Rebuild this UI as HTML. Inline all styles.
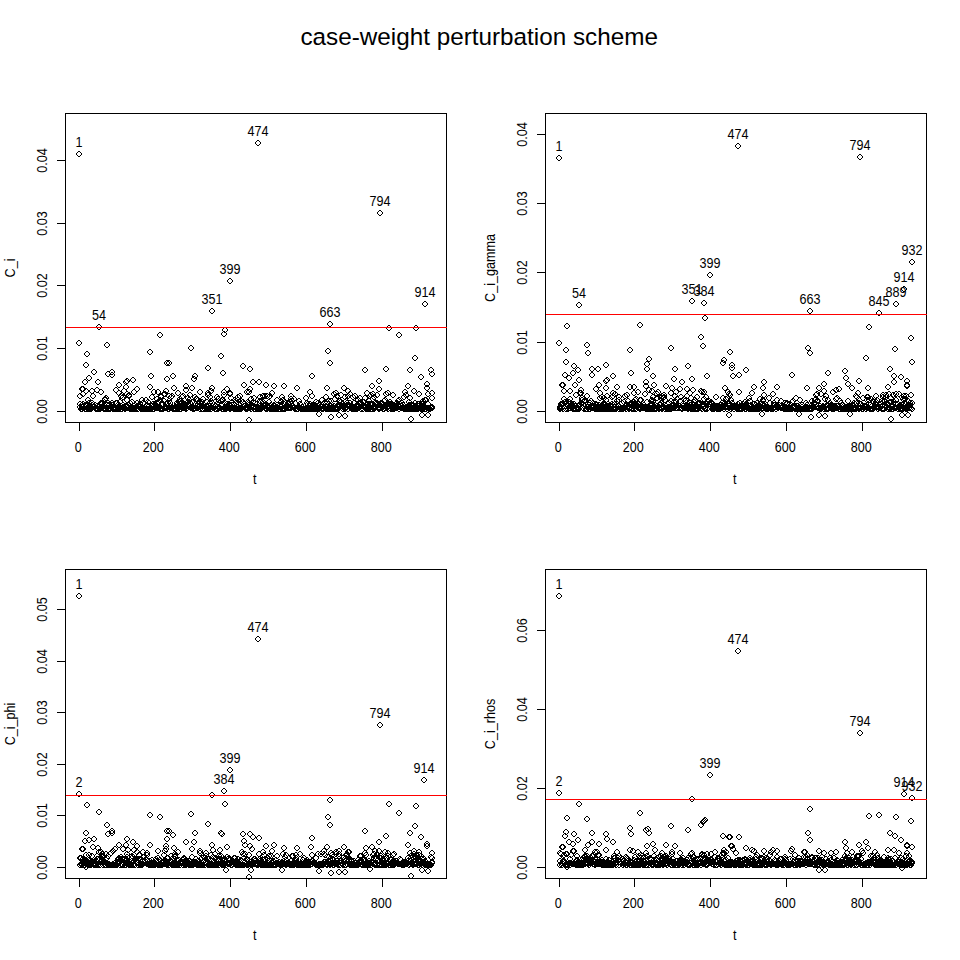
<!DOCTYPE html>
<html><head><meta charset="utf-8"><title>case-weight perturbation scheme</title>
<style>html,body{margin:0;padding:0;background:#fff;}body{width:960px;height:960px;overflow:hidden;font-family:"Liberation Sans",sans-serif;}svg{display:block;}</style>
</head><body>
<svg width="960" height="960" viewBox="0 0 960 960">
<defs><symbol id="m" overflow="visible"><path d="M-1,-3h2v1h-2zM-2,-2h1v1h-1zM1,-2h1v1h-1zM-3,-1h1v2h-1zM2,-1h1v2h-1zM-2,1h1v1h-1zM1,1h1v1h-1zM-1,2h2v1h-2z"/></symbol></defs>
<rect x="0" y="0" width="960" height="960" fill="#fff"/>
<text x="479.2" y="44.7" text-anchor="middle" font-family='"Liberation Sans", sans-serif' font-size="24.27" fill="#000">case-weight perturbation scheme</text>
<g id="p1">
<g fill="#000" shape-rendering="crispEdges">
<use href="#m" x="80" y="396"/><use href="#m" x="80" y="404"/><use href="#m" x="80" y="407"/><use href="#m" x="81" y="409"/><use href="#m" x="82" y="409"/><use href="#m" x="82" y="407"/><use href="#m" x="82" y="405"/><use href="#m" x="83" y="404"/><use href="#m" x="83" y="394"/><use href="#m" x="83" y="407"/><use href="#m" x="84" y="406"/><use href="#m" x="84" y="408"/><use href="#m" x="85" y="407"/><use href="#m" x="85" y="409"/><use href="#m" x="86" y="391"/><use href="#m" x="86" y="405"/><use href="#m" x="86" y="409"/><use href="#m" x="87" y="405"/><use href="#m" x="87" y="408"/><use href="#m" x="88" y="407"/><use href="#m" x="88" y="400"/><use href="#m" x="88" y="409"/><use href="#m" x="89" y="403"/><use href="#m" x="89" y="409"/><use href="#m" x="90" y="409"/><use href="#m" x="90" y="406"/><use href="#m" x="91" y="409"/><use href="#m" x="91" y="408"/><use href="#m" x="92" y="403"/><use href="#m" x="92" y="405"/><use href="#m" x="93" y="407"/><use href="#m" x="93" y="396"/><use href="#m" x="94" y="406"/><use href="#m" x="95" y="405"/><use href="#m" x="96" y="409"/><use href="#m" x="96" y="408"/><use href="#m" x="97" y="406"/><use href="#m" x="97" y="409"/><use href="#m" x="98" y="409"/><use href="#m" x="99" y="406"/><use href="#m" x="100" y="409"/><use href="#m" x="100" y="408"/><use href="#m" x="101" y="403"/><use href="#m" x="101" y="404"/><use href="#m" x="102" y="404"/><use href="#m" x="103" y="406"/><use href="#m" x="104" y="409"/><use href="#m" x="105" y="409"/><use href="#m" x="105" y="400"/><use href="#m" x="105" y="399"/><use href="#m" x="106" y="409"/><use href="#m" x="106" y="398"/><use href="#m" x="107" y="405"/><use href="#m" x="107" y="408"/><use href="#m" x="108" y="403"/><use href="#m" x="108" y="409"/><use href="#m" x="109" y="405"/><use href="#m" x="109" y="408"/><use href="#m" x="110" y="409"/><use href="#m" x="110" y="408"/><use href="#m" x="111" y="407"/><use href="#m" x="111" y="406"/><use href="#m" x="112" y="403"/><use href="#m" x="112" y="405"/><use href="#m" x="113" y="409"/><use href="#m" x="113" y="408"/><use href="#m" x="114" y="408"/><use href="#m" x="114" y="409"/><use href="#m" x="115" y="408"/><use href="#m" x="115" y="409"/><use href="#m" x="116" y="403"/><use href="#m" x="116" y="409"/><use href="#m" x="117" y="403"/><use href="#m" x="118" y="409"/><use href="#m" x="118" y="405"/><use href="#m" x="119" y="408"/><use href="#m" x="119" y="409"/><use href="#m" x="120" y="407"/><use href="#m" x="120" y="402"/><use href="#m" x="121" y="409"/><use href="#m" x="121" y="406"/><use href="#m" x="121" y="396"/><use href="#m" x="122" y="398"/><use href="#m" x="122" y="409"/><use href="#m" x="123" y="397"/><use href="#m" x="123" y="405"/><use href="#m" x="124" y="407"/><use href="#m" x="124" y="391"/><use href="#m" x="124" y="408"/><use href="#m" x="125" y="409"/><use href="#m" x="125" y="408"/><use href="#m" x="126" y="406"/><use href="#m" x="126" y="407"/><use href="#m" x="127" y="400"/><use href="#m" x="127" y="394"/><use href="#m" x="128" y="408"/><use href="#m" x="128" y="405"/><use href="#m" x="129" y="395"/><use href="#m" x="129" y="396"/><use href="#m" x="130" y="403"/><use href="#m" x="130" y="408"/><use href="#m" x="130" y="409"/><use href="#m" x="131" y="409"/><use href="#m" x="132" y="408"/><use href="#m" x="132" y="409"/><use href="#m" x="132" y="402"/><use href="#m" x="133" y="408"/><use href="#m" x="133" y="409"/><use href="#m" x="134" y="409"/><use href="#m" x="135" y="405"/><use href="#m" x="135" y="408"/><use href="#m" x="136" y="409"/><use href="#m" x="136" y="407"/><use href="#m" x="137" y="408"/><use href="#m" x="137" y="403"/><use href="#m" x="138" y="409"/><use href="#m" x="139" y="407"/><use href="#m" x="139" y="405"/><use href="#m" x="139" y="406"/><use href="#m" x="140" y="404"/><use href="#m" x="140" y="407"/><use href="#m" x="141" y="409"/><use href="#m" x="141" y="408"/><use href="#m" x="142" y="400"/><use href="#m" x="142" y="407"/><use href="#m" x="143" y="409"/><use href="#m" x="143" y="403"/><use href="#m" x="144" y="409"/><use href="#m" x="144" y="408"/><use href="#m" x="145" y="407"/><use href="#m" x="145" y="409"/><use href="#m" x="146" y="400"/><use href="#m" x="146" y="409"/><use href="#m" x="147" y="405"/><use href="#m" x="147" y="409"/><use href="#m" x="147" y="406"/><use href="#m" x="148" y="409"/><use href="#m" x="148" y="402"/><use href="#m" x="149" y="409"/><use href="#m" x="149" y="406"/><use href="#m" x="150" y="408"/><use href="#m" x="150" y="409"/><use href="#m" x="151" y="408"/><use href="#m" x="151" y="409"/><use href="#m" x="152" y="406"/><use href="#m" x="152" y="397"/><use href="#m" x="153" y="409"/><use href="#m" x="153" y="404"/><use href="#m" x="154" y="406"/><use href="#m" x="154" y="409"/><use href="#m" x="155" y="407"/><use href="#m" x="155" y="408"/><use href="#m" x="155" y="404"/><use href="#m" x="156" y="408"/><use href="#m" x="156" y="407"/><use href="#m" x="157" y="407"/><use href="#m" x="157" y="399"/><use href="#m" x="157" y="408"/><use href="#m" x="158" y="408"/><use href="#m" x="158" y="407"/><use href="#m" x="158" y="402"/><use href="#m" x="159" y="407"/><use href="#m" x="160" y="407"/><use href="#m" x="160" y="400"/><use href="#m" x="160" y="409"/><use href="#m" x="161" y="396"/><use href="#m" x="161" y="397"/><use href="#m" x="161" y="409"/><use href="#m" x="162" y="409"/><use href="#m" x="162" y="404"/><use href="#m" x="163" y="404"/><use href="#m" x="163" y="409"/><use href="#m" x="164" y="401"/><use href="#m" x="164" y="394"/><use href="#m" x="164" y="408"/><use href="#m" x="165" y="394"/><use href="#m" x="166" y="404"/><use href="#m" x="166" y="408"/><use href="#m" x="167" y="404"/><use href="#m" x="168" y="403"/><use href="#m" x="168" y="409"/><use href="#m" x="169" y="401"/><use href="#m" x="169" y="409"/><use href="#m" x="169" y="396"/><use href="#m" x="170" y="403"/><use href="#m" x="170" y="408"/><use href="#m" x="171" y="408"/><use href="#m" x="171" y="397"/><use href="#m" x="172" y="407"/><use href="#m" x="172" y="408"/><use href="#m" x="172" y="396"/><use href="#m" x="173" y="409"/><use href="#m" x="174" y="409"/><use href="#m" x="175" y="409"/><use href="#m" x="176" y="409"/><use href="#m" x="177" y="405"/><use href="#m" x="177" y="407"/><use href="#m" x="177" y="403"/><use href="#m" x="178" y="408"/><use href="#m" x="178" y="409"/><use href="#m" x="179" y="408"/><use href="#m" x="179" y="402"/><use href="#m" x="179" y="406"/><use href="#m" x="180" y="401"/><use href="#m" x="180" y="399"/><use href="#m" x="180" y="409"/><use href="#m" x="181" y="409"/><use href="#m" x="181" y="401"/><use href="#m" x="182" y="397"/><use href="#m" x="182" y="403"/><use href="#m" x="182" y="405"/><use href="#m" x="183" y="396"/><use href="#m" x="183" y="406"/><use href="#m" x="183" y="408"/><use href="#m" x="184" y="405"/><use href="#m" x="184" y="408"/><use href="#m" x="185" y="407"/><use href="#m" x="185" y="404"/><use href="#m" x="185" y="408"/><use href="#m" x="186" y="409"/><use href="#m" x="186" y="407"/><use href="#m" x="186" y="390"/><use href="#m" x="187" y="406"/><use href="#m" x="187" y="408"/><use href="#m" x="188" y="402"/><use href="#m" x="188" y="404"/><use href="#m" x="188" y="398"/><use href="#m" x="189" y="405"/><use href="#m" x="189" y="400"/><use href="#m" x="190" y="395"/><use href="#m" x="190" y="403"/><use href="#m" x="191" y="404"/><use href="#m" x="191" y="408"/><use href="#m" x="192" y="402"/><use href="#m" x="193" y="409"/><use href="#m" x="193" y="407"/><use href="#m" x="194" y="409"/><use href="#m" x="194" y="408"/><use href="#m" x="195" y="408"/><use href="#m" x="195" y="397"/><use href="#m" x="196" y="399"/><use href="#m" x="197" y="406"/><use href="#m" x="197" y="399"/><use href="#m" x="197" y="408"/><use href="#m" x="198" y="404"/><use href="#m" x="198" y="407"/><use href="#m" x="199" y="407"/><use href="#m" x="199" y="406"/><use href="#m" x="200" y="409"/><use href="#m" x="200" y="403"/><use href="#m" x="200" y="405"/><use href="#m" x="201" y="404"/><use href="#m" x="202" y="409"/><use href="#m" x="202" y="402"/><use href="#m" x="203" y="409"/><use href="#m" x="203" y="399"/><use href="#m" x="204" y="408"/><use href="#m" x="204" y="405"/><use href="#m" x="205" y="409"/><use href="#m" x="205" y="407"/><use href="#m" x="206" y="406"/><use href="#m" x="206" y="408"/><use href="#m" x="207" y="402"/><use href="#m" x="207" y="409"/><use href="#m" x="208" y="395"/><use href="#m" x="208" y="393"/><use href="#m" x="208" y="409"/><use href="#m" x="209" y="408"/><use href="#m" x="209" y="409"/><use href="#m" x="210" y="403"/><use href="#m" x="210" y="397"/><use href="#m" x="210" y="408"/><use href="#m" x="211" y="409"/><use href="#m" x="211" y="401"/><use href="#m" x="212" y="403"/><use href="#m" x="213" y="408"/><use href="#m" x="214" y="407"/><use href="#m" x="215" y="406"/><use href="#m" x="215" y="409"/><use href="#m" x="216" y="406"/><use href="#m" x="216" y="401"/><use href="#m" x="216" y="409"/><use href="#m" x="217" y="404"/><use href="#m" x="217" y="397"/><use href="#m" x="218" y="409"/><use href="#m" x="218" y="399"/><use href="#m" x="219" y="407"/><use href="#m" x="219" y="408"/><use href="#m" x="220" y="408"/><use href="#m" x="221" y="401"/><use href="#m" x="221" y="405"/><use href="#m" x="222" y="409"/><use href="#m" x="222" y="404"/><use href="#m" x="222" y="400"/><use href="#m" x="223" y="400"/><use href="#m" x="223" y="409"/><use href="#m" x="224" y="392"/><use href="#m" x="224" y="395"/><use href="#m" x="225" y="409"/><use href="#m" x="225" y="407"/><use href="#m" x="225" y="408"/><use href="#m" x="226" y="408"/><use href="#m" x="226" y="409"/><use href="#m" x="227" y="404"/><use href="#m" x="227" y="406"/><use href="#m" x="228" y="407"/><use href="#m" x="228" y="406"/><use href="#m" x="229" y="407"/><use href="#m" x="229" y="408"/><use href="#m" x="229" y="404"/><use href="#m" x="230" y="394"/><use href="#m" x="230" y="409"/><use href="#m" x="230" y="393"/><use href="#m" x="231" y="408"/><use href="#m" x="231" y="398"/><use href="#m" x="232" y="405"/><use href="#m" x="232" y="408"/><use href="#m" x="232" y="402"/><use href="#m" x="233" y="408"/><use href="#m" x="234" y="409"/><use href="#m" x="235" y="400"/><use href="#m" x="235" y="408"/><use href="#m" x="236" y="401"/><use href="#m" x="236" y="403"/><use href="#m" x="236" y="409"/><use href="#m" x="237" y="409"/><use href="#m" x="237" y="407"/><use href="#m" x="238" y="400"/><use href="#m" x="238" y="397"/><use href="#m" x="238" y="409"/><use href="#m" x="239" y="409"/><use href="#m" x="239" y="408"/><use href="#m" x="240" y="396"/><use href="#m" x="240" y="408"/><use href="#m" x="240" y="409"/><use href="#m" x="241" y="404"/><use href="#m" x="241" y="401"/><use href="#m" x="241" y="409"/><use href="#m" x="243" y="407"/><use href="#m" x="243" y="402"/><use href="#m" x="244" y="406"/><use href="#m" x="244" y="404"/><use href="#m" x="245" y="406"/><use href="#m" x="246" y="407"/><use href="#m" x="246" y="409"/><use href="#m" x="246" y="408"/><use href="#m" x="247" y="409"/><use href="#m" x="247" y="407"/><use href="#m" x="248" y="402"/><use href="#m" x="249" y="392"/><use href="#m" x="249" y="403"/><use href="#m" x="249" y="405"/><use href="#m" x="250" y="408"/><use href="#m" x="250" y="404"/><use href="#m" x="251" y="399"/><use href="#m" x="251" y="409"/><use href="#m" x="251" y="407"/><use href="#m" x="252" y="406"/><use href="#m" x="252" y="405"/><use href="#m" x="253" y="402"/><use href="#m" x="253" y="408"/><use href="#m" x="254" y="398"/><use href="#m" x="254" y="409"/><use href="#m" x="255" y="403"/><use href="#m" x="255" y="409"/><use href="#m" x="256" y="407"/><use href="#m" x="257" y="409"/><use href="#m" x="258" y="408"/><use href="#m" x="258" y="407"/><use href="#m" x="258" y="409"/><use href="#m" x="259" y="409"/><use href="#m" x="259" y="408"/><use href="#m" x="260" y="397"/><use href="#m" x="260" y="401"/><use href="#m" x="261" y="407"/><use href="#m" x="261" y="409"/><use href="#m" x="261" y="402"/><use href="#m" x="262" y="408"/><use href="#m" x="262" y="407"/><use href="#m" x="263" y="402"/><use href="#m" x="263" y="396"/><use href="#m" x="264" y="406"/><use href="#m" x="264" y="405"/><use href="#m" x="265" y="408"/><use href="#m" x="265" y="405"/><use href="#m" x="265" y="396"/><use href="#m" x="266" y="409"/><use href="#m" x="266" y="408"/><use href="#m" x="266" y="404"/><use href="#m" x="267" y="396"/><use href="#m" x="267" y="409"/><use href="#m" x="268" y="406"/><use href="#m" x="268" y="407"/><use href="#m" x="268" y="408"/><use href="#m" x="269" y="402"/><use href="#m" x="269" y="397"/><use href="#m" x="270" y="396"/><use href="#m" x="270" y="409"/><use href="#m" x="271" y="405"/><use href="#m" x="271" y="409"/><use href="#m" x="272" y="409"/><use href="#m" x="273" y="408"/><use href="#m" x="273" y="409"/><use href="#m" x="274" y="405"/><use href="#m" x="274" y="406"/><use href="#m" x="274" y="408"/><use href="#m" x="275" y="409"/><use href="#m" x="275" y="408"/><use href="#m" x="276" y="409"/><use href="#m" x="276" y="408"/><use href="#m" x="277" y="408"/><use href="#m" x="277" y="400"/><use href="#m" x="277" y="409"/><use href="#m" x="278" y="408"/><use href="#m" x="279" y="409"/><use href="#m" x="280" y="409"/><use href="#m" x="280" y="405"/><use href="#m" x="281" y="402"/><use href="#m" x="281" y="407"/><use href="#m" x="282" y="405"/><use href="#m" x="282" y="397"/><use href="#m" x="282" y="409"/><use href="#m" x="283" y="400"/><use href="#m" x="283" y="408"/><use href="#m" x="284" y="408"/><use href="#m" x="284" y="409"/><use href="#m" x="285" y="409"/><use href="#m" x="285" y="407"/><use href="#m" x="285" y="402"/><use href="#m" x="286" y="406"/><use href="#m" x="287" y="407"/><use href="#m" x="287" y="406"/><use href="#m" x="288" y="404"/><use href="#m" x="288" y="403"/><use href="#m" x="288" y="408"/><use href="#m" x="289" y="407"/><use href="#m" x="290" y="408"/><use href="#m" x="290" y="407"/><use href="#m" x="290" y="402"/><use href="#m" x="291" y="396"/><use href="#m" x="291" y="399"/><use href="#m" x="291" y="408"/><use href="#m" x="292" y="401"/><use href="#m" x="293" y="406"/><use href="#m" x="294" y="407"/><use href="#m" x="294" y="408"/><use href="#m" x="294" y="399"/><use href="#m" x="295" y="409"/><use href="#m" x="296" y="408"/><use href="#m" x="297" y="409"/><use href="#m" x="298" y="409"/><use href="#m" x="299" y="401"/><use href="#m" x="299" y="407"/><use href="#m" x="300" y="408"/><use href="#m" x="300" y="404"/><use href="#m" x="301" y="409"/><use href="#m" x="301" y="405"/><use href="#m" x="302" y="407"/><use href="#m" x="303" y="409"/><use href="#m" x="304" y="409"/><use href="#m" x="305" y="409"/><use href="#m" x="306" y="408"/><use href="#m" x="306" y="398"/><use href="#m" x="307" y="403"/><use href="#m" x="307" y="409"/><use href="#m" x="308" y="404"/><use href="#m" x="308" y="409"/><use href="#m" x="308" y="408"/><use href="#m" x="309" y="409"/><use href="#m" x="309" y="406"/><use href="#m" x="310" y="392"/><use href="#m" x="310" y="404"/><use href="#m" x="310" y="409"/><use href="#m" x="311" y="408"/><use href="#m" x="311" y="409"/><use href="#m" x="312" y="409"/><use href="#m" x="312" y="408"/><use href="#m" x="312" y="396"/><use href="#m" x="313" y="406"/><use href="#m" x="313" y="409"/><use href="#m" x="313" y="405"/><use href="#m" x="314" y="408"/><use href="#m" x="314" y="407"/><use href="#m" x="315" y="409"/><use href="#m" x="315" y="405"/><use href="#m" x="315" y="408"/><use href="#m" x="316" y="409"/><use href="#m" x="316" y="402"/><use href="#m" x="317" y="409"/><use href="#m" x="317" y="408"/><use href="#m" x="318" y="409"/><use href="#m" x="318" y="403"/><use href="#m" x="318" y="406"/><use href="#m" x="319" y="409"/><use href="#m" x="320" y="405"/><use href="#m" x="320" y="408"/><use href="#m" x="321" y="407"/><use href="#m" x="321" y="406"/><use href="#m" x="322" y="409"/><use href="#m" x="322" y="400"/><use href="#m" x="323" y="408"/><use href="#m" x="323" y="409"/><use href="#m" x="324" y="407"/><use href="#m" x="325" y="402"/><use href="#m" x="325" y="408"/><use href="#m" x="326" y="404"/><use href="#m" x="326" y="409"/><use href="#m" x="326" y="397"/><use href="#m" x="327" y="407"/><use href="#m" x="327" y="402"/><use href="#m" x="328" y="408"/><use href="#m" x="328" y="409"/><use href="#m" x="329" y="401"/><use href="#m" x="329" y="408"/><use href="#m" x="329" y="407"/><use href="#m" x="330" y="406"/><use href="#m" x="330" y="409"/><use href="#m" x="330" y="405"/><use href="#m" x="331" y="406"/><use href="#m" x="331" y="401"/><use href="#m" x="332" y="409"/><use href="#m" x="332" y="408"/><use href="#m" x="333" y="408"/><use href="#m" x="333" y="407"/><use href="#m" x="333" y="409"/><use href="#m" x="334" y="406"/><use href="#m" x="334" y="394"/><use href="#m" x="335" y="399"/><use href="#m" x="335" y="408"/><use href="#m" x="335" y="409"/><use href="#m" x="336" y="408"/><use href="#m" x="336" y="409"/><use href="#m" x="337" y="409"/><use href="#m" x="337" y="396"/><use href="#m" x="338" y="406"/><use href="#m" x="338" y="409"/><use href="#m" x="338" y="405"/><use href="#m" x="339" y="401"/><use href="#m" x="340" y="401"/><use href="#m" x="340" y="406"/><use href="#m" x="340" y="405"/><use href="#m" x="341" y="402"/><use href="#m" x="341" y="395"/><use href="#m" x="342" y="406"/><use href="#m" x="342" y="404"/><use href="#m" x="343" y="409"/><use href="#m" x="343" y="407"/><use href="#m" x="344" y="406"/><use href="#m" x="345" y="409"/><use href="#m" x="345" y="397"/><use href="#m" x="346" y="407"/><use href="#m" x="346" y="408"/><use href="#m" x="346" y="401"/><use href="#m" x="347" y="405"/><use href="#m" x="347" y="403"/><use href="#m" x="348" y="396"/><use href="#m" x="348" y="409"/><use href="#m" x="349" y="406"/><use href="#m" x="349" y="405"/><use href="#m" x="350" y="403"/><use href="#m" x="350" y="394"/><use href="#m" x="351" y="407"/><use href="#m" x="352" y="409"/><use href="#m" x="352" y="407"/><use href="#m" x="352" y="408"/><use href="#m" x="353" y="408"/><use href="#m" x="353" y="397"/><use href="#m" x="354" y="407"/><use href="#m" x="354" y="409"/><use href="#m" x="354" y="403"/><use href="#m" x="355" y="396"/><use href="#m" x="355" y="407"/><use href="#m" x="355" y="409"/><use href="#m" x="356" y="409"/><use href="#m" x="357" y="409"/><use href="#m" x="357" y="405"/><use href="#m" x="358" y="405"/><use href="#m" x="358" y="400"/><use href="#m" x="358" y="406"/><use href="#m" x="359" y="408"/><use href="#m" x="359" y="403"/><use href="#m" x="360" y="398"/><use href="#m" x="360" y="407"/><use href="#m" x="360" y="403"/><use href="#m" x="361" y="405"/><use href="#m" x="361" y="409"/><use href="#m" x="362" y="404"/><use href="#m" x="362" y="408"/><use href="#m" x="363" y="409"/><use href="#m" x="363" y="402"/><use href="#m" x="363" y="406"/><use href="#m" x="364" y="407"/><use href="#m" x="364" y="402"/><use href="#m" x="365" y="407"/><use href="#m" x="365" y="408"/><use href="#m" x="365" y="398"/><use href="#m" x="366" y="409"/><use href="#m" x="366" y="407"/><use href="#m" x="367" y="408"/><use href="#m" x="367" y="409"/><use href="#m" x="368" y="409"/><use href="#m" x="368" y="407"/><use href="#m" x="368" y="404"/><use href="#m" x="369" y="401"/><use href="#m" x="369" y="409"/><use href="#m" x="369" y="408"/><use href="#m" x="370" y="404"/><use href="#m" x="370" y="396"/><use href="#m" x="371" y="409"/><use href="#m" x="371" y="404"/><use href="#m" x="371" y="395"/><use href="#m" x="372" y="409"/><use href="#m" x="372" y="404"/><use href="#m" x="373" y="399"/><use href="#m" x="373" y="394"/><use href="#m" x="374" y="408"/><use href="#m" x="374" y="409"/><use href="#m" x="374" y="397"/><use href="#m" x="375" y="403"/><use href="#m" x="375" y="408"/><use href="#m" x="376" y="404"/><use href="#m" x="376" y="407"/><use href="#m" x="377" y="395"/><use href="#m" x="377" y="405"/><use href="#m" x="377" y="403"/><use href="#m" x="378" y="408"/><use href="#m" x="378" y="404"/><use href="#m" x="379" y="409"/><use href="#m" x="379" y="408"/><use href="#m" x="380" y="408"/><use href="#m" x="380" y="405"/><use href="#m" x="381" y="403"/><use href="#m" x="382" y="407"/><use href="#m" x="382" y="403"/><use href="#m" x="383" y="405"/><use href="#m" x="383" y="409"/><use href="#m" x="384" y="401"/><use href="#m" x="384" y="406"/><use href="#m" x="384" y="409"/><use href="#m" x="385" y="408"/><use href="#m" x="385" y="400"/><use href="#m" x="386" y="394"/><use href="#m" x="387" y="405"/><use href="#m" x="387" y="408"/><use href="#m" x="387" y="404"/><use href="#m" x="388" y="409"/><use href="#m" x="388" y="407"/><use href="#m" x="389" y="404"/><use href="#m" x="389" y="406"/><use href="#m" x="390" y="402"/><use href="#m" x="390" y="404"/><use href="#m" x="390" y="408"/><use href="#m" x="391" y="409"/><use href="#m" x="391" y="404"/><use href="#m" x="391" y="406"/><use href="#m" x="392" y="407"/><use href="#m" x="393" y="407"/><use href="#m" x="393" y="409"/><use href="#m" x="393" y="395"/><use href="#m" x="394" y="405"/><use href="#m" x="394" y="409"/><use href="#m" x="394" y="408"/><use href="#m" x="395" y="406"/><use href="#m" x="395" y="407"/><use href="#m" x="396" y="408"/><use href="#m" x="396" y="404"/><use href="#m" x="397" y="403"/><use href="#m" x="397" y="408"/><use href="#m" x="398" y="401"/><use href="#m" x="398" y="405"/><use href="#m" x="399" y="409"/><use href="#m" x="399" y="407"/><use href="#m" x="399" y="400"/><use href="#m" x="400" y="404"/><use href="#m" x="401" y="408"/><use href="#m" x="401" y="406"/><use href="#m" x="402" y="403"/><use href="#m" x="402" y="408"/><use href="#m" x="403" y="408"/><use href="#m" x="403" y="405"/><use href="#m" x="404" y="409"/><use href="#m" x="404" y="397"/><use href="#m" x="405" y="408"/><use href="#m" x="405" y="392"/><use href="#m" x="406" y="409"/><use href="#m" x="406" y="395"/><use href="#m" x="407" y="409"/><use href="#m" x="407" y="408"/><use href="#m" x="408" y="408"/><use href="#m" x="408" y="409"/><use href="#m" x="409" y="402"/><use href="#m" x="409" y="406"/><use href="#m" x="409" y="405"/><use href="#m" x="410" y="398"/><use href="#m" x="410" y="406"/><use href="#m" x="410" y="409"/><use href="#m" x="411" y="405"/><use href="#m" x="411" y="409"/><use href="#m" x="412" y="408"/><use href="#m" x="412" y="409"/><use href="#m" x="412" y="405"/><use href="#m" x="413" y="405"/><use href="#m" x="413" y="409"/><use href="#m" x="414" y="409"/><use href="#m" x="414" y="408"/><use href="#m" x="415" y="403"/><use href="#m" x="416" y="408"/><use href="#m" x="416" y="409"/><use href="#m" x="417" y="408"/><use href="#m" x="418" y="409"/><use href="#m" x="418" y="404"/><use href="#m" x="419" y="404"/><use href="#m" x="419" y="408"/><use href="#m" x="420" y="405"/><use href="#m" x="420" y="408"/><use href="#m" x="421" y="409"/><use href="#m" x="421" y="408"/><use href="#m" x="422" y="404"/><use href="#m" x="422" y="409"/><use href="#m" x="423" y="408"/><use href="#m" x="423" y="401"/><use href="#m" x="423" y="409"/><use href="#m" x="424" y="408"/><use href="#m" x="424" y="407"/><use href="#m" x="425" y="400"/><use href="#m" x="425" y="409"/><use href="#m" x="426" y="409"/><use href="#m" x="426" y="400"/><use href="#m" x="427" y="408"/><use href="#m" x="428" y="404"/><use href="#m" x="428" y="394"/><use href="#m" x="429" y="408"/><use href="#m" x="429" y="409"/><use href="#m" x="430" y="409"/><use href="#m" x="431" y="408"/><use href="#m" x="432" y="407"/><use href="#m" x="432" y="398"/><use href="#m" x="432" y="408"/><use href="#m" x="79" y="154"/><use href="#m" x="99" y="327"/><use href="#m" x="212" y="311"/><use href="#m" x="230" y="281"/><use href="#m" x="160" y="335"/><use href="#m" x="225" y="330"/><use href="#m" x="224" y="334"/><use href="#m" x="258" y="143"/><use href="#m" x="380" y="213"/><use href="#m" x="425" y="304"/><use href="#m" x="330" y="324"/><use href="#m" x="389" y="328"/><use href="#m" x="416" y="328"/><use href="#m" x="399" y="335"/><use href="#m" x="79" y="343"/><use href="#m" x="87" y="354"/><use href="#m" x="86" y="365"/><use href="#m" x="94" y="372"/><use href="#m" x="107" y="345"/><use href="#m" x="108" y="374"/><use href="#m" x="112" y="372"/><use href="#m" x="112" y="375"/><use href="#m" x="150" y="352"/><use href="#m" x="167" y="363"/><use href="#m" x="169" y="363"/><use href="#m" x="151" y="376"/><use href="#m" x="173" y="376"/><use href="#m" x="191" y="348"/><use href="#m" x="195" y="376"/><use href="#m" x="208" y="368"/><use href="#m" x="221" y="356"/><use href="#m" x="223" y="373"/><use href="#m" x="243" y="366"/><use href="#m" x="250" y="369"/><use href="#m" x="89" y="378"/><use href="#m" x="85" y="382"/><use href="#m" x="98" y="382"/><use href="#m" x="82" y="389"/><use href="#m" x="83" y="389"/><use href="#m" x="97" y="390"/><use href="#m" x="101" y="392"/><use href="#m" x="92" y="391"/><use href="#m" x="126" y="382"/><use href="#m" x="127" y="381"/><use href="#m" x="133" y="380"/><use href="#m" x="119" y="385"/><use href="#m" x="126" y="387"/><use href="#m" x="137" y="389"/><use href="#m" x="134" y="392"/><use href="#m" x="119" y="393"/><use href="#m" x="116" y="390"/><use href="#m" x="167" y="379"/><use href="#m" x="150" y="387"/><use href="#m" x="154" y="392"/><use href="#m" x="158" y="392"/><use href="#m" x="166" y="391"/><use href="#m" x="174" y="388"/><use href="#m" x="178" y="393"/><use href="#m" x="194" y="379"/><use href="#m" x="186" y="386"/><use href="#m" x="192" y="388"/><use href="#m" x="200" y="392"/><use href="#m" x="212" y="388"/><use href="#m" x="211" y="391"/><use href="#m" x="227" y="389"/><use href="#m" x="244" y="385"/><use href="#m" x="253" y="382"/><use href="#m" x="259" y="382"/><use href="#m" x="250" y="389"/><use href="#m" x="247" y="392"/><use href="#m" x="249" y="420"/><use href="#m" x="328" y="351"/><use href="#m" x="330" y="363"/><use href="#m" x="312" y="376"/><use href="#m" x="365" y="370"/><use href="#m" x="386" y="369"/><use href="#m" x="410" y="370"/><use href="#m" x="415" y="358"/><use href="#m" x="431" y="370"/><use href="#m" x="432" y="374"/><use href="#m" x="421" y="377"/><use href="#m" x="266" y="385"/><use href="#m" x="274" y="386"/><use href="#m" x="284" y="386"/><use href="#m" x="297" y="388"/><use href="#m" x="272" y="393"/><use href="#m" x="327" y="388"/><use href="#m" x="344" y="388"/><use href="#m" x="379" y="381"/><use href="#m" x="372" y="386"/><use href="#m" x="379" y="389"/><use href="#m" x="408" y="386"/><use href="#m" x="427" y="384"/><use href="#m" x="427" y="388"/><use href="#m" x="432" y="393"/><use href="#m" x="414" y="391"/><use href="#m" x="388" y="393"/><use href="#m" x="367" y="393"/><use href="#m" x="348" y="391"/><use href="#m" x="336" y="393"/><use href="#m" x="419" y="394"/><use href="#m" x="331" y="417"/><use href="#m" x="339" y="415"/><use href="#m" x="345" y="416"/><use href="#m" x="411" y="419"/><use href="#m" x="422" y="415"/><use href="#m" x="428" y="415"/><use href="#m" x="319" y="414"/>
</g>
<g stroke="#000" stroke-width="1" fill="none" shape-rendering="crispEdges">
<rect x="65.5" y="113.5" width="381" height="309"/>
<line x1="79.5" y1="422.5" x2="79.5" y2="431.0"/>
<line x1="154.5" y1="422.5" x2="154.5" y2="431.0"/>
<line x1="230.5" y1="422.5" x2="230.5" y2="431.0"/>
<line x1="306.5" y1="422.5" x2="306.5" y2="431.0"/>
<line x1="382.5" y1="422.5" x2="382.5" y2="431.0"/>
<line x1="57.0" y1="411.5" x2="65.5" y2="411.5"/>
<line x1="57.0" y1="348.5" x2="65.5" y2="348.5"/>
<line x1="57.0" y1="285.5" x2="65.5" y2="285.5"/>
<line x1="57.0" y1="223.5" x2="65.5" y2="223.5"/>
<line x1="57.0" y1="160.5" x2="65.5" y2="160.5"/>
</g>
<line x1="65.5" y1="327.5" x2="447.0" y2="327.5" stroke="#f00" stroke-width="1" shape-rendering="crispEdges"/>
<g font-family='"Liberation Sans", sans-serif' font-size="14" fill="#000" text-anchor="middle">
<text transform="translate(78.30,452.00) scale(0.9,1)">0</text>
<text transform="translate(153.30,452.00) scale(0.9,1)">200</text>
<text transform="translate(229.30,452.00) scale(0.9,1)">400</text>
<text transform="translate(305.30,452.00) scale(0.9,1)">600</text>
<text transform="translate(381.30,452.00) scale(0.9,1)">800</text>
<text transform="translate(254.80,484.00) scale(0.9,1)">t</text>
<text transform="translate(46.80,411.50) rotate(-90) scale(0.9,1)">0.00</text>
<text transform="translate(46.80,348.50) rotate(-90) scale(0.9,1)">0.01</text>
<text transform="translate(46.80,285.50) rotate(-90) scale(0.9,1)">0.02</text>
<text transform="translate(46.80,223.50) rotate(-90) scale(0.9,1)">0.03</text>
<text transform="translate(46.80,160.50) rotate(-90) scale(0.9,1)">0.04</text>
<text transform="translate(14.80,268.00) rotate(-90) scale(0.9,1)">C_i</text>
<text transform="translate(79.00,147.00) scale(0.9,1)">1</text>
<text transform="translate(99.00,320.00) scale(0.9,1)">54</text>
<text transform="translate(212.00,304.00) scale(0.9,1)">351</text>
<text transform="translate(230.00,274.00) scale(0.9,1)">399</text>
<text transform="translate(258.00,136.00) scale(0.9,1)">474</text>
<text transform="translate(380.00,206.00) scale(0.9,1)">794</text>
<text transform="translate(425.00,297.00) scale(0.9,1)">914</text>
<text transform="translate(330.00,317.00) scale(0.9,1)">663</text>
</g>
</g>
<g id="p2">
<g fill="#000" shape-rendering="crispEdges">
<use href="#m" x="560" y="407"/><use href="#m" x="560" y="409"/><use href="#m" x="560" y="408"/><use href="#m" x="561" y="404"/><use href="#m" x="562" y="404"/><use href="#m" x="562" y="408"/><use href="#m" x="562" y="405"/><use href="#m" x="563" y="406"/><use href="#m" x="563" y="409"/><use href="#m" x="564" y="399"/><use href="#m" x="565" y="402"/><use href="#m" x="566" y="409"/><use href="#m" x="566" y="404"/><use href="#m" x="567" y="405"/><use href="#m" x="568" y="405"/><use href="#m" x="568" y="409"/><use href="#m" x="568" y="406"/><use href="#m" x="569" y="408"/><use href="#m" x="569" y="404"/><use href="#m" x="569" y="402"/><use href="#m" x="570" y="408"/><use href="#m" x="570" y="399"/><use href="#m" x="571" y="403"/><use href="#m" x="571" y="405"/><use href="#m" x="572" y="406"/><use href="#m" x="572" y="408"/><use href="#m" x="573" y="409"/><use href="#m" x="574" y="408"/><use href="#m" x="574" y="404"/><use href="#m" x="574" y="409"/><use href="#m" x="575" y="406"/><use href="#m" x="576" y="409"/><use href="#m" x="576" y="406"/><use href="#m" x="576" y="395"/><use href="#m" x="577" y="408"/><use href="#m" x="577" y="407"/><use href="#m" x="578" y="409"/><use href="#m" x="578" y="408"/><use href="#m" x="579" y="409"/><use href="#m" x="579" y="405"/><use href="#m" x="580" y="405"/><use href="#m" x="581" y="403"/><use href="#m" x="581" y="393"/><use href="#m" x="582" y="403"/><use href="#m" x="582" y="398"/><use href="#m" x="582" y="400"/><use href="#m" x="583" y="408"/><use href="#m" x="584" y="409"/><use href="#m" x="584" y="401"/><use href="#m" x="585" y="401"/><use href="#m" x="585" y="400"/><use href="#m" x="586" y="409"/><use href="#m" x="586" y="405"/><use href="#m" x="587" y="407"/><use href="#m" x="587" y="409"/><use href="#m" x="587" y="396"/><use href="#m" x="588" y="407"/><use href="#m" x="588" y="404"/><use href="#m" x="589" y="405"/><use href="#m" x="589" y="409"/><use href="#m" x="590" y="409"/><use href="#m" x="590" y="403"/><use href="#m" x="591" y="406"/><use href="#m" x="591" y="401"/><use href="#m" x="592" y="408"/><use href="#m" x="593" y="403"/><use href="#m" x="593" y="407"/><use href="#m" x="593" y="408"/><use href="#m" x="594" y="407"/><use href="#m" x="594" y="406"/><use href="#m" x="595" y="409"/><use href="#m" x="595" y="408"/><use href="#m" x="596" y="404"/><use href="#m" x="596" y="408"/><use href="#m" x="597" y="409"/><use href="#m" x="597" y="405"/><use href="#m" x="598" y="408"/><use href="#m" x="598" y="409"/><use href="#m" x="598" y="407"/><use href="#m" x="599" y="409"/><use href="#m" x="599" y="405"/><use href="#m" x="600" y="398"/><use href="#m" x="600" y="408"/><use href="#m" x="601" y="408"/><use href="#m" x="601" y="409"/><use href="#m" x="602" y="409"/><use href="#m" x="602" y="406"/><use href="#m" x="602" y="397"/><use href="#m" x="603" y="406"/><use href="#m" x="603" y="404"/><use href="#m" x="604" y="404"/><use href="#m" x="604" y="398"/><use href="#m" x="604" y="409"/><use href="#m" x="605" y="404"/><use href="#m" x="606" y="400"/><use href="#m" x="606" y="409"/><use href="#m" x="607" y="408"/><use href="#m" x="607" y="396"/><use href="#m" x="608" y="404"/><use href="#m" x="608" y="409"/><use href="#m" x="608" y="408"/><use href="#m" x="609" y="407"/><use href="#m" x="609" y="409"/><use href="#m" x="610" y="409"/><use href="#m" x="610" y="405"/><use href="#m" x="611" y="409"/><use href="#m" x="612" y="407"/><use href="#m" x="612" y="397"/><use href="#m" x="612" y="404"/><use href="#m" x="613" y="409"/><use href="#m" x="613" y="405"/><use href="#m" x="613" y="396"/><use href="#m" x="614" y="407"/><use href="#m" x="614" y="409"/><use href="#m" x="615" y="409"/><use href="#m" x="615" y="404"/><use href="#m" x="615" y="394"/><use href="#m" x="616" y="409"/><use href="#m" x="616" y="408"/><use href="#m" x="617" y="404"/><use href="#m" x="617" y="401"/><use href="#m" x="618" y="406"/><use href="#m" x="619" y="409"/><use href="#m" x="619" y="397"/><use href="#m" x="619" y="400"/><use href="#m" x="620" y="407"/><use href="#m" x="621" y="409"/><use href="#m" x="621" y="408"/><use href="#m" x="622" y="403"/><use href="#m" x="622" y="409"/><use href="#m" x="623" y="409"/><use href="#m" x="623" y="408"/><use href="#m" x="624" y="402"/><use href="#m" x="625" y="408"/><use href="#m" x="625" y="396"/><use href="#m" x="626" y="406"/><use href="#m" x="626" y="409"/><use href="#m" x="626" y="405"/><use href="#m" x="627" y="405"/><use href="#m" x="627" y="395"/><use href="#m" x="627" y="407"/><use href="#m" x="628" y="401"/><use href="#m" x="628" y="407"/><use href="#m" x="629" y="408"/><use href="#m" x="629" y="409"/><use href="#m" x="630" y="408"/><use href="#m" x="630" y="407"/><use href="#m" x="630" y="405"/><use href="#m" x="631" y="405"/><use href="#m" x="631" y="403"/><use href="#m" x="632" y="409"/><use href="#m" x="632" y="408"/><use href="#m" x="633" y="406"/><use href="#m" x="633" y="405"/><use href="#m" x="634" y="409"/><use href="#m" x="634" y="404"/><use href="#m" x="634" y="402"/><use href="#m" x="635" y="400"/><use href="#m" x="635" y="408"/><use href="#m" x="635" y="406"/><use href="#m" x="636" y="409"/><use href="#m" x="636" y="399"/><use href="#m" x="637" y="405"/><use href="#m" x="637" y="407"/><use href="#m" x="637" y="406"/><use href="#m" x="638" y="408"/><use href="#m" x="638" y="404"/><use href="#m" x="639" y="408"/><use href="#m" x="639" y="407"/><use href="#m" x="640" y="400"/><use href="#m" x="640" y="409"/><use href="#m" x="640" y="407"/><use href="#m" x="641" y="406"/><use href="#m" x="641" y="400"/><use href="#m" x="641" y="408"/><use href="#m" x="642" y="406"/><use href="#m" x="643" y="407"/><use href="#m" x="643" y="408"/><use href="#m" x="644" y="405"/><use href="#m" x="644" y="408"/><use href="#m" x="645" y="407"/><use href="#m" x="645" y="394"/><use href="#m" x="646" y="408"/><use href="#m" x="646" y="409"/><use href="#m" x="646" y="407"/><use href="#m" x="647" y="402"/><use href="#m" x="647" y="408"/><use href="#m" x="648" y="408"/><use href="#m" x="648" y="409"/><use href="#m" x="649" y="390"/><use href="#m" x="649" y="409"/><use href="#m" x="649" y="407"/><use href="#m" x="650" y="408"/><use href="#m" x="650" y="409"/><use href="#m" x="651" y="401"/><use href="#m" x="651" y="409"/><use href="#m" x="651" y="408"/><use href="#m" x="652" y="400"/><use href="#m" x="652" y="409"/><use href="#m" x="652" y="404"/><use href="#m" x="653" y="401"/><use href="#m" x="653" y="397"/><use href="#m" x="654" y="407"/><use href="#m" x="654" y="409"/><use href="#m" x="655" y="405"/><use href="#m" x="655" y="409"/><use href="#m" x="656" y="408"/><use href="#m" x="656" y="409"/><use href="#m" x="657" y="406"/><use href="#m" x="657" y="398"/><use href="#m" x="657" y="394"/><use href="#m" x="658" y="407"/><use href="#m" x="659" y="409"/><use href="#m" x="659" y="408"/><use href="#m" x="660" y="404"/><use href="#m" x="660" y="405"/><use href="#m" x="661" y="403"/><use href="#m" x="661" y="398"/><use href="#m" x="662" y="396"/><use href="#m" x="662" y="409"/><use href="#m" x="662" y="408"/><use href="#m" x="663" y="398"/><use href="#m" x="663" y="407"/><use href="#m" x="663" y="406"/><use href="#m" x="664" y="395"/><use href="#m" x="664" y="397"/><use href="#m" x="665" y="400"/><use href="#m" x="665" y="409"/><use href="#m" x="666" y="408"/><use href="#m" x="666" y="406"/><use href="#m" x="667" y="408"/><use href="#m" x="667" y="409"/><use href="#m" x="668" y="409"/><use href="#m" x="668" y="407"/><use href="#m" x="669" y="403"/><use href="#m" x="669" y="409"/><use href="#m" x="670" y="407"/><use href="#m" x="670" y="409"/><use href="#m" x="671" y="409"/><use href="#m" x="671" y="401"/><use href="#m" x="672" y="405"/><use href="#m" x="672" y="408"/><use href="#m" x="673" y="406"/><use href="#m" x="674" y="402"/><use href="#m" x="674" y="405"/><use href="#m" x="674" y="408"/><use href="#m" x="675" y="396"/><use href="#m" x="675" y="407"/><use href="#m" x="676" y="402"/><use href="#m" x="676" y="408"/><use href="#m" x="676" y="406"/><use href="#m" x="677" y="399"/><use href="#m" x="677" y="408"/><use href="#m" x="678" y="407"/><use href="#m" x="678" y="405"/><use href="#m" x="679" y="408"/><use href="#m" x="679" y="406"/><use href="#m" x="680" y="401"/><use href="#m" x="681" y="397"/><use href="#m" x="681" y="408"/><use href="#m" x="682" y="409"/><use href="#m" x="682" y="408"/><use href="#m" x="683" y="406"/><use href="#m" x="684" y="399"/><use href="#m" x="684" y="408"/><use href="#m" x="685" y="401"/><use href="#m" x="685" y="408"/><use href="#m" x="685" y="407"/><use href="#m" x="686" y="406"/><use href="#m" x="686" y="400"/><use href="#m" x="687" y="389"/><use href="#m" x="687" y="407"/><use href="#m" x="687" y="396"/><use href="#m" x="688" y="408"/><use href="#m" x="688" y="409"/><use href="#m" x="689" y="407"/><use href="#m" x="690" y="405"/><use href="#m" x="690" y="403"/><use href="#m" x="690" y="407"/><use href="#m" x="691" y="398"/><use href="#m" x="691" y="409"/><use href="#m" x="691" y="408"/><use href="#m" x="692" y="408"/><use href="#m" x="692" y="404"/><use href="#m" x="693" y="408"/><use href="#m" x="693" y="409"/><use href="#m" x="693" y="407"/><use href="#m" x="694" y="407"/><use href="#m" x="694" y="402"/><use href="#m" x="695" y="406"/><use href="#m" x="695" y="409"/><use href="#m" x="695" y="400"/><use href="#m" x="696" y="406"/><use href="#m" x="696" y="409"/><use href="#m" x="696" y="408"/><use href="#m" x="697" y="409"/><use href="#m" x="697" y="397"/><use href="#m" x="698" y="409"/><use href="#m" x="698" y="404"/><use href="#m" x="698" y="407"/><use href="#m" x="699" y="403"/><use href="#m" x="699" y="407"/><use href="#m" x="699" y="404"/><use href="#m" x="700" y="403"/><use href="#m" x="701" y="408"/><use href="#m" x="701" y="391"/><use href="#m" x="702" y="392"/><use href="#m" x="702" y="409"/><use href="#m" x="703" y="407"/><use href="#m" x="703" y="404"/><use href="#m" x="704" y="399"/><use href="#m" x="704" y="392"/><use href="#m" x="704" y="406"/><use href="#m" x="705" y="409"/><use href="#m" x="705" y="408"/><use href="#m" x="706" y="403"/><use href="#m" x="706" y="397"/><use href="#m" x="707" y="409"/><use href="#m" x="707" y="404"/><use href="#m" x="708" y="408"/><use href="#m" x="708" y="402"/><use href="#m" x="709" y="401"/><use href="#m" x="709" y="404"/><use href="#m" x="710" y="404"/><use href="#m" x="711" y="403"/><use href="#m" x="711" y="402"/><use href="#m" x="712" y="409"/><use href="#m" x="712" y="403"/><use href="#m" x="713" y="406"/><use href="#m" x="713" y="409"/><use href="#m" x="714" y="409"/><use href="#m" x="714" y="408"/><use href="#m" x="715" y="408"/><use href="#m" x="715" y="407"/><use href="#m" x="716" y="397"/><use href="#m" x="716" y="406"/><use href="#m" x="717" y="409"/><use href="#m" x="717" y="406"/><use href="#m" x="718" y="406"/><use href="#m" x="718" y="408"/><use href="#m" x="718" y="409"/><use href="#m" x="719" y="407"/><use href="#m" x="719" y="409"/><use href="#m" x="720" y="409"/><use href="#m" x="720" y="407"/><use href="#m" x="721" y="405"/><use href="#m" x="721" y="408"/><use href="#m" x="722" y="408"/><use href="#m" x="722" y="403"/><use href="#m" x="723" y="398"/><use href="#m" x="723" y="406"/><use href="#m" x="724" y="404"/><use href="#m" x="724" y="409"/><use href="#m" x="724" y="406"/><use href="#m" x="725" y="403"/><use href="#m" x="726" y="399"/><use href="#m" x="726" y="407"/><use href="#m" x="727" y="409"/><use href="#m" x="727" y="407"/><use href="#m" x="728" y="398"/><use href="#m" x="728" y="404"/><use href="#m" x="729" y="406"/><use href="#m" x="729" y="403"/><use href="#m" x="729" y="394"/><use href="#m" x="730" y="395"/><use href="#m" x="731" y="400"/><use href="#m" x="731" y="409"/><use href="#m" x="732" y="408"/><use href="#m" x="732" y="407"/><use href="#m" x="732" y="403"/><use href="#m" x="733" y="406"/><use href="#m" x="734" y="407"/><use href="#m" x="734" y="409"/><use href="#m" x="735" y="407"/><use href="#m" x="735" y="406"/><use href="#m" x="736" y="406"/><use href="#m" x="736" y="408"/><use href="#m" x="737" y="409"/><use href="#m" x="737" y="406"/><use href="#m" x="738" y="408"/><use href="#m" x="738" y="404"/><use href="#m" x="739" y="409"/><use href="#m" x="740" y="409"/><use href="#m" x="740" y="406"/><use href="#m" x="740" y="403"/><use href="#m" x="741" y="409"/><use href="#m" x="741" y="406"/><use href="#m" x="742" y="409"/><use href="#m" x="743" y="404"/><use href="#m" x="743" y="408"/><use href="#m" x="744" y="406"/><use href="#m" x="745" y="402"/><use href="#m" x="745" y="409"/><use href="#m" x="746" y="409"/><use href="#m" x="746" y="405"/><use href="#m" x="746" y="404"/><use href="#m" x="747" y="408"/><use href="#m" x="747" y="407"/><use href="#m" x="748" y="408"/><use href="#m" x="749" y="406"/><use href="#m" x="749" y="409"/><use href="#m" x="749" y="398"/><use href="#m" x="750" y="401"/><use href="#m" x="750" y="409"/><use href="#m" x="751" y="407"/><use href="#m" x="751" y="405"/><use href="#m" x="751" y="409"/><use href="#m" x="752" y="409"/><use href="#m" x="752" y="408"/><use href="#m" x="753" y="407"/><use href="#m" x="754" y="404"/><use href="#m" x="754" y="409"/><use href="#m" x="754" y="408"/><use href="#m" x="755" y="408"/><use href="#m" x="755" y="409"/><use href="#m" x="756" y="405"/><use href="#m" x="756" y="409"/><use href="#m" x="757" y="407"/><use href="#m" x="757" y="406"/><use href="#m" x="757" y="403"/><use href="#m" x="758" y="408"/><use href="#m" x="758" y="409"/><use href="#m" x="759" y="408"/><use href="#m" x="759" y="406"/><use href="#m" x="759" y="409"/><use href="#m" x="760" y="408"/><use href="#m" x="760" y="399"/><use href="#m" x="760" y="407"/><use href="#m" x="761" y="403"/><use href="#m" x="761" y="407"/><use href="#m" x="762" y="408"/><use href="#m" x="762" y="409"/><use href="#m" x="763" y="400"/><use href="#m" x="763" y="404"/><use href="#m" x="763" y="401"/><use href="#m" x="764" y="395"/><use href="#m" x="764" y="406"/><use href="#m" x="765" y="404"/><use href="#m" x="765" y="408"/><use href="#m" x="765" y="407"/><use href="#m" x="766" y="408"/><use href="#m" x="766" y="409"/><use href="#m" x="767" y="409"/><use href="#m" x="767" y="408"/><use href="#m" x="767" y="407"/><use href="#m" x="768" y="409"/><use href="#m" x="768" y="407"/><use href="#m" x="768" y="408"/><use href="#m" x="769" y="408"/><use href="#m" x="769" y="398"/><use href="#m" x="770" y="403"/><use href="#m" x="770" y="408"/><use href="#m" x="771" y="409"/><use href="#m" x="772" y="407"/><use href="#m" x="773" y="394"/><use href="#m" x="773" y="409"/><use href="#m" x="773" y="408"/><use href="#m" x="774" y="408"/><use href="#m" x="774" y="403"/><use href="#m" x="774" y="405"/><use href="#m" x="775" y="405"/><use href="#m" x="775" y="407"/><use href="#m" x="776" y="409"/><use href="#m" x="776" y="406"/><use href="#m" x="777" y="400"/><use href="#m" x="777" y="407"/><use href="#m" x="777" y="406"/><use href="#m" x="778" y="408"/><use href="#m" x="778" y="406"/><use href="#m" x="779" y="405"/><use href="#m" x="781" y="408"/><use href="#m" x="781" y="401"/><use href="#m" x="782" y="408"/><use href="#m" x="782" y="405"/><use href="#m" x="783" y="407"/><use href="#m" x="784" y="408"/><use href="#m" x="784" y="409"/><use href="#m" x="785" y="409"/><use href="#m" x="785" y="403"/><use href="#m" x="785" y="408"/><use href="#m" x="786" y="409"/><use href="#m" x="787" y="409"/><use href="#m" x="787" y="403"/><use href="#m" x="787" y="404"/><use href="#m" x="788" y="409"/><use href="#m" x="788" y="408"/><use href="#m" x="789" y="408"/><use href="#m" x="790" y="409"/><use href="#m" x="790" y="408"/><use href="#m" x="791" y="408"/><use href="#m" x="791" y="405"/><use href="#m" x="792" y="402"/><use href="#m" x="792" y="409"/><use href="#m" x="793" y="401"/><use href="#m" x="793" y="408"/><use href="#m" x="794" y="407"/><use href="#m" x="794" y="408"/><use href="#m" x="795" y="409"/><use href="#m" x="795" y="406"/><use href="#m" x="796" y="408"/><use href="#m" x="796" y="398"/><use href="#m" x="797" y="409"/><use href="#m" x="797" y="406"/><use href="#m" x="798" y="408"/><use href="#m" x="798" y="406"/><use href="#m" x="798" y="409"/><use href="#m" x="799" y="408"/><use href="#m" x="799" y="409"/><use href="#m" x="800" y="409"/><use href="#m" x="800" y="400"/><use href="#m" x="801" y="409"/><use href="#m" x="802" y="405"/><use href="#m" x="802" y="407"/><use href="#m" x="803" y="409"/><use href="#m" x="804" y="409"/><use href="#m" x="804" y="408"/><use href="#m" x="805" y="408"/><use href="#m" x="805" y="409"/><use href="#m" x="806" y="403"/><use href="#m" x="806" y="408"/><use href="#m" x="806" y="407"/><use href="#m" x="807" y="409"/><use href="#m" x="807" y="405"/><use href="#m" x="807" y="408"/><use href="#m" x="808" y="408"/><use href="#m" x="809" y="409"/><use href="#m" x="810" y="409"/><use href="#m" x="811" y="409"/><use href="#m" x="811" y="406"/><use href="#m" x="812" y="401"/><use href="#m" x="812" y="409"/><use href="#m" x="813" y="407"/><use href="#m" x="813" y="406"/><use href="#m" x="813" y="408"/><use href="#m" x="814" y="403"/><use href="#m" x="814" y="404"/><use href="#m" x="815" y="400"/><use href="#m" x="815" y="403"/><use href="#m" x="816" y="399"/><use href="#m" x="816" y="407"/><use href="#m" x="817" y="394"/><use href="#m" x="817" y="401"/><use href="#m" x="818" y="408"/><use href="#m" x="818" y="401"/><use href="#m" x="819" y="408"/><use href="#m" x="820" y="409"/><use href="#m" x="820" y="406"/><use href="#m" x="821" y="409"/><use href="#m" x="821" y="408"/><use href="#m" x="821" y="394"/><use href="#m" x="822" y="407"/><use href="#m" x="823" y="407"/><use href="#m" x="823" y="406"/><use href="#m" x="824" y="409"/><use href="#m" x="824" y="407"/><use href="#m" x="825" y="399"/><use href="#m" x="826" y="396"/><use href="#m" x="826" y="409"/><use href="#m" x="827" y="409"/><use href="#m" x="827" y="405"/><use href="#m" x="828" y="409"/><use href="#m" x="828" y="405"/><use href="#m" x="828" y="400"/><use href="#m" x="829" y="404"/><use href="#m" x="830" y="407"/><use href="#m" x="830" y="403"/><use href="#m" x="831" y="406"/><use href="#m" x="831" y="407"/><use href="#m" x="831" y="408"/><use href="#m" x="832" y="405"/><use href="#m" x="832" y="409"/><use href="#m" x="833" y="409"/><use href="#m" x="833" y="392"/><use href="#m" x="834" y="408"/><use href="#m" x="834" y="409"/><use href="#m" x="835" y="408"/><use href="#m" x="835" y="406"/><use href="#m" x="836" y="399"/><use href="#m" x="837" y="406"/><use href="#m" x="837" y="408"/><use href="#m" x="837" y="398"/><use href="#m" x="838" y="406"/><use href="#m" x="839" y="389"/><use href="#m" x="839" y="409"/><use href="#m" x="840" y="401"/><use href="#m" x="840" y="409"/><use href="#m" x="841" y="403"/><use href="#m" x="842" y="409"/><use href="#m" x="843" y="409"/><use href="#m" x="843" y="405"/><use href="#m" x="844" y="409"/><use href="#m" x="845" y="408"/><use href="#m" x="845" y="407"/><use href="#m" x="846" y="409"/><use href="#m" x="846" y="407"/><use href="#m" x="847" y="409"/><use href="#m" x="847" y="407"/><use href="#m" x="848" y="409"/><use href="#m" x="848" y="401"/><use href="#m" x="849" y="406"/><use href="#m" x="849" y="407"/><use href="#m" x="850" y="409"/><use href="#m" x="850" y="408"/><use href="#m" x="851" y="407"/><use href="#m" x="851" y="408"/><use href="#m" x="851" y="409"/><use href="#m" x="852" y="405"/><use href="#m" x="853" y="408"/><use href="#m" x="853" y="406"/><use href="#m" x="853" y="409"/><use href="#m" x="854" y="409"/><use href="#m" x="854" y="403"/><use href="#m" x="855" y="409"/><use href="#m" x="855" y="404"/><use href="#m" x="856" y="408"/><use href="#m" x="856" y="396"/><use href="#m" x="856" y="409"/><use href="#m" x="857" y="406"/><use href="#m" x="857" y="403"/><use href="#m" x="857" y="397"/><use href="#m" x="858" y="408"/><use href="#m" x="859" y="409"/><use href="#m" x="859" y="403"/><use href="#m" x="860" y="408"/><use href="#m" x="860" y="404"/><use href="#m" x="861" y="404"/><use href="#m" x="862" y="409"/><use href="#m" x="862" y="406"/><use href="#m" x="863" y="398"/><use href="#m" x="863" y="409"/><use href="#m" x="864" y="406"/><use href="#m" x="864" y="408"/><use href="#m" x="865" y="406"/><use href="#m" x="865" y="407"/><use href="#m" x="866" y="409"/><use href="#m" x="866" y="406"/><use href="#m" x="867" y="397"/><use href="#m" x="867" y="400"/><use href="#m" x="867" y="408"/><use href="#m" x="868" y="397"/><use href="#m" x="868" y="408"/><use href="#m" x="868" y="407"/><use href="#m" x="869" y="400"/><use href="#m" x="870" y="405"/><use href="#m" x="870" y="409"/><use href="#m" x="871" y="409"/><use href="#m" x="871" y="399"/><use href="#m" x="872" y="409"/><use href="#m" x="872" y="406"/><use href="#m" x="873" y="409"/><use href="#m" x="873" y="402"/><use href="#m" x="873" y="401"/><use href="#m" x="874" y="402"/><use href="#m" x="875" y="404"/><use href="#m" x="875" y="406"/><use href="#m" x="876" y="402"/><use href="#m" x="876" y="404"/><use href="#m" x="877" y="407"/><use href="#m" x="877" y="400"/><use href="#m" x="878" y="406"/><use href="#m" x="878" y="409"/><use href="#m" x="878" y="407"/><use href="#m" x="879" y="408"/><use href="#m" x="881" y="404"/><use href="#m" x="881" y="407"/><use href="#m" x="882" y="409"/><use href="#m" x="882" y="401"/><use href="#m" x="882" y="406"/><use href="#m" x="883" y="409"/><use href="#m" x="883" y="397"/><use href="#m" x="884" y="401"/><use href="#m" x="884" y="409"/><use href="#m" x="885" y="406"/><use href="#m" x="885" y="405"/><use href="#m" x="885" y="401"/><use href="#m" x="886" y="397"/><use href="#m" x="886" y="395"/><use href="#m" x="887" y="400"/><use href="#m" x="887" y="404"/><use href="#m" x="888" y="409"/><use href="#m" x="888" y="404"/><use href="#m" x="889" y="394"/><use href="#m" x="889" y="408"/><use href="#m" x="890" y="409"/><use href="#m" x="890" y="408"/><use href="#m" x="890" y="402"/><use href="#m" x="891" y="398"/><use href="#m" x="891" y="402"/><use href="#m" x="892" y="409"/><use href="#m" x="892" y="405"/><use href="#m" x="892" y="407"/><use href="#m" x="893" y="395"/><use href="#m" x="893" y="409"/><use href="#m" x="894" y="402"/><use href="#m" x="894" y="408"/><use href="#m" x="895" y="408"/><use href="#m" x="896" y="394"/><use href="#m" x="896" y="404"/><use href="#m" x="896" y="400"/><use href="#m" x="897" y="405"/><use href="#m" x="898" y="404"/><use href="#m" x="898" y="409"/><use href="#m" x="899" y="407"/><use href="#m" x="900" y="405"/><use href="#m" x="900" y="406"/><use href="#m" x="900" y="409"/><use href="#m" x="901" y="408"/><use href="#m" x="901" y="409"/><use href="#m" x="901" y="406"/><use href="#m" x="902" y="397"/><use href="#m" x="902" y="409"/><use href="#m" x="903" y="405"/><use href="#m" x="903" y="409"/><use href="#m" x="903" y="399"/><use href="#m" x="904" y="396"/><use href="#m" x="904" y="408"/><use href="#m" x="904" y="403"/><use href="#m" x="905" y="408"/><use href="#m" x="905" y="399"/><use href="#m" x="906" y="409"/><use href="#m" x="906" y="404"/><use href="#m" x="907" y="408"/><use href="#m" x="907" y="409"/><use href="#m" x="908" y="405"/><use href="#m" x="908" y="401"/><use href="#m" x="909" y="405"/><use href="#m" x="909" y="408"/><use href="#m" x="910" y="403"/><use href="#m" x="910" y="405"/><use href="#m" x="910" y="407"/><use href="#m" x="911" y="408"/><use href="#m" x="911" y="395"/><use href="#m" x="912" y="409"/><use href="#m" x="912" y="403"/><use href="#m" x="559" y="158"/><use href="#m" x="579" y="305"/><use href="#m" x="692" y="301"/><use href="#m" x="704" y="303"/><use href="#m" x="710" y="275"/><use href="#m" x="567" y="326"/><use href="#m" x="640" y="325"/><use href="#m" x="705" y="318"/><use href="#m" x="738" y="146"/><use href="#m" x="860" y="157"/><use href="#m" x="912" y="262"/><use href="#m" x="904" y="289"/><use href="#m" x="896" y="304"/><use href="#m" x="879" y="313"/><use href="#m" x="810" y="311"/><use href="#m" x="869" y="327"/><use href="#m" x="911" y="338"/><use href="#m" x="559" y="343"/><use href="#m" x="566" y="350"/><use href="#m" x="566" y="362"/><use href="#m" x="574" y="366"/><use href="#m" x="578" y="370"/><use href="#m" x="573" y="373"/><use href="#m" x="565" y="375"/><use href="#m" x="569" y="378"/><use href="#m" x="587" y="345"/><use href="#m" x="588" y="353"/><use href="#m" x="592" y="369"/><use href="#m" x="598" y="369"/><use href="#m" x="592" y="375"/><use href="#m" x="606" y="365"/><use href="#m" x="613" y="376"/><use href="#m" x="630" y="350"/><use href="#m" x="631" y="373"/><use href="#m" x="649" y="359"/><use href="#m" x="647" y="364"/><use href="#m" x="647" y="369"/><use href="#m" x="653" y="376"/><use href="#m" x="671" y="348"/><use href="#m" x="675" y="369"/><use href="#m" x="688" y="366"/><use href="#m" x="701" y="337"/><use href="#m" x="703" y="346"/><use href="#m" x="707" y="376"/><use href="#m" x="730" y="352"/><use href="#m" x="724" y="360"/><use href="#m" x="723" y="363"/><use href="#m" x="732" y="365"/><use href="#m" x="732" y="368"/><use href="#m" x="733" y="376"/><use href="#m" x="739" y="375"/><use href="#m" x="579" y="380"/><use href="#m" x="575" y="385"/><use href="#m" x="562" y="385"/><use href="#m" x="563" y="385"/><use href="#m" x="564" y="391"/><use href="#m" x="570" y="391"/><use href="#m" x="581" y="390"/><use href="#m" x="580" y="393"/><use href="#m" x="599" y="385"/><use href="#m" x="607" y="380"/><use href="#m" x="606" y="381"/><use href="#m" x="606" y="388"/><use href="#m" x="617" y="387"/><use href="#m" x="596" y="389"/><use href="#m" x="600" y="393"/><use href="#m" x="613" y="393"/><use href="#m" x="630" y="387"/><use href="#m" x="634" y="387"/><use href="#m" x="638" y="392"/><use href="#m" x="634" y="393"/><use href="#m" x="646" y="382"/><use href="#m" x="646" y="386"/><use href="#m" x="654" y="385"/><use href="#m" x="652" y="391"/><use href="#m" x="658" y="392"/><use href="#m" x="674" y="379"/><use href="#m" x="682" y="382"/><use href="#m" x="692" y="379"/><use href="#m" x="666" y="386"/><use href="#m" x="672" y="388"/><use href="#m" x="680" y="389"/><use href="#m" x="676" y="392"/><use href="#m" x="671" y="393"/><use href="#m" x="693" y="390"/><use href="#m" x="690" y="393"/><use href="#m" x="725" y="388"/><use href="#m" x="728" y="392"/><use href="#m" x="729" y="415"/><use href="#m" x="746" y="370"/><use href="#m" x="792" y="375"/><use href="#m" x="808" y="348"/><use href="#m" x="810" y="353"/><use href="#m" x="828" y="373"/><use href="#m" x="845" y="371"/><use href="#m" x="846" y="378"/><use href="#m" x="866" y="358"/><use href="#m" x="890" y="369"/><use href="#m" x="895" y="349"/><use href="#m" x="912" y="362"/><use href="#m" x="894" y="376"/><use href="#m" x="901" y="377"/><use href="#m" x="764" y="382"/><use href="#m" x="763" y="388"/><use href="#m" x="754" y="387"/><use href="#m" x="777" y="387"/><use href="#m" x="752" y="393"/><use href="#m" x="807" y="388"/><use href="#m" x="824" y="384"/><use href="#m" x="819" y="388"/><use href="#m" x="836" y="390"/><use href="#m" x="848" y="384"/><use href="#m" x="852" y="388"/><use href="#m" x="859" y="381"/><use href="#m" x="868" y="388"/><use href="#m" x="888" y="387"/><use href="#m" x="894" y="382"/><use href="#m" x="907" y="381"/><use href="#m" x="907" y="385"/><use href="#m" x="907" y="386"/><use href="#m" x="824" y="391"/><use href="#m" x="739" y="392"/><use href="#m" x="816" y="395"/><use href="#m" x="858" y="393"/><use href="#m" x="876" y="396"/><use href="#m" x="883" y="395"/><use href="#m" x="899" y="394"/><use href="#m" x="906" y="396"/><use href="#m" x="811" y="417"/><use href="#m" x="819" y="415"/><use href="#m" x="825" y="416"/><use href="#m" x="891" y="419"/><use href="#m" x="902" y="415"/><use href="#m" x="908" y="415"/><use href="#m" x="799" y="414"/><use href="#m" x="850" y="414"/><use href="#m" x="762" y="414"/>
</g>
<g stroke="#000" stroke-width="1" fill="none" shape-rendering="crispEdges">
<rect x="545.5" y="113.5" width="381" height="309"/>
<line x1="559.5" y1="422.5" x2="559.5" y2="431.0"/>
<line x1="634.5" y1="422.5" x2="634.5" y2="431.0"/>
<line x1="710.5" y1="422.5" x2="710.5" y2="431.0"/>
<line x1="786.5" y1="422.5" x2="786.5" y2="431.0"/>
<line x1="862.5" y1="422.5" x2="862.5" y2="431.0"/>
<line x1="537.0" y1="411.5" x2="545.5" y2="411.5"/>
<line x1="537.0" y1="342.5" x2="545.5" y2="342.5"/>
<line x1="537.0" y1="272.5" x2="545.5" y2="272.5"/>
<line x1="537.0" y1="203.5" x2="545.5" y2="203.5"/>
<line x1="537.0" y1="134.5" x2="545.5" y2="134.5"/>
</g>
<line x1="545.5" y1="314.5" x2="927.0" y2="314.5" stroke="#f00" stroke-width="1" shape-rendering="crispEdges"/>
<g font-family='"Liberation Sans", sans-serif' font-size="14" fill="#000" text-anchor="middle">
<text transform="translate(558.30,452.00) scale(0.9,1)">0</text>
<text transform="translate(633.30,452.00) scale(0.9,1)">200</text>
<text transform="translate(709.30,452.00) scale(0.9,1)">400</text>
<text transform="translate(785.30,452.00) scale(0.9,1)">600</text>
<text transform="translate(861.30,452.00) scale(0.9,1)">800</text>
<text transform="translate(734.80,484.00) scale(0.9,1)">t</text>
<text transform="translate(526.80,411.50) rotate(-90) scale(0.9,1)">0.00</text>
<text transform="translate(526.80,342.50) rotate(-90) scale(0.9,1)">0.01</text>
<text transform="translate(526.80,272.50) rotate(-90) scale(0.9,1)">0.02</text>
<text transform="translate(526.80,203.50) rotate(-90) scale(0.9,1)">0.03</text>
<text transform="translate(526.80,134.50) rotate(-90) scale(0.9,1)">0.04</text>
<text transform="translate(494.80,268.00) rotate(-90) scale(0.9,1)">C_i_gamma</text>
<text transform="translate(559.00,151.00) scale(0.9,1)">1</text>
<text transform="translate(579.00,298.00) scale(0.9,1)">54</text>
<text transform="translate(692.00,294.00) scale(0.9,1)">351</text>
<text transform="translate(704.00,296.00) scale(0.9,1)">384</text>
<text transform="translate(710.00,268.00) scale(0.9,1)">399</text>
<text transform="translate(738.00,139.00) scale(0.9,1)">474</text>
<text transform="translate(860.00,150.00) scale(0.9,1)">794</text>
<text transform="translate(912.00,255.00) scale(0.9,1)">932</text>
<text transform="translate(904.00,282.00) scale(0.9,1)">914</text>
<text transform="translate(896.00,297.00) scale(0.9,1)">889</text>
<text transform="translate(879.00,306.00) scale(0.9,1)">845</text>
<text transform="translate(810.00,304.00) scale(0.9,1)">663</text>
</g>
</g>
<g id="p3">
<g fill="#000" shape-rendering="crispEdges">
<use href="#m" x="80" y="865"/><use href="#m" x="80" y="858"/><use href="#m" x="81" y="864"/><use href="#m" x="81" y="858"/><use href="#m" x="82" y="865"/><use href="#m" x="82" y="864"/><use href="#m" x="83" y="859"/><use href="#m" x="83" y="861"/><use href="#m" x="84" y="862"/><use href="#m" x="84" y="865"/><use href="#m" x="85" y="865"/><use href="#m" x="86" y="855"/><use href="#m" x="86" y="861"/><use href="#m" x="86" y="860"/><use href="#m" x="87" y="863"/><use href="#m" x="87" y="862"/><use href="#m" x="88" y="865"/><use href="#m" x="88" y="864"/><use href="#m" x="89" y="855"/><use href="#m" x="89" y="865"/><use href="#m" x="90" y="865"/><use href="#m" x="90" y="861"/><use href="#m" x="91" y="863"/><use href="#m" x="91" y="864"/><use href="#m" x="91" y="865"/><use href="#m" x="92" y="863"/><use href="#m" x="92" y="856"/><use href="#m" x="92" y="861"/><use href="#m" x="93" y="862"/><use href="#m" x="93" y="864"/><use href="#m" x="94" y="863"/><use href="#m" x="94" y="865"/><use href="#m" x="94" y="864"/><use href="#m" x="95" y="864"/><use href="#m" x="96" y="864"/><use href="#m" x="96" y="865"/><use href="#m" x="97" y="859"/><use href="#m" x="97" y="856"/><use href="#m" x="97" y="862"/><use href="#m" x="98" y="865"/><use href="#m" x="98" y="859"/><use href="#m" x="99" y="852"/><use href="#m" x="100" y="862"/><use href="#m" x="100" y="859"/><use href="#m" x="100" y="865"/><use href="#m" x="101" y="862"/><use href="#m" x="102" y="854"/><use href="#m" x="102" y="860"/><use href="#m" x="102" y="856"/><use href="#m" x="103" y="863"/><use href="#m" x="103" y="865"/><use href="#m" x="103" y="857"/><use href="#m" x="104" y="862"/><use href="#m" x="105" y="865"/><use href="#m" x="105" y="862"/><use href="#m" x="106" y="865"/><use href="#m" x="106" y="854"/><use href="#m" x="107" y="858"/><use href="#m" x="107" y="863"/><use href="#m" x="108" y="856"/><use href="#m" x="108" y="865"/><use href="#m" x="109" y="864"/><use href="#m" x="110" y="865"/><use href="#m" x="111" y="865"/><use href="#m" x="111" y="853"/><use href="#m" x="112" y="865"/><use href="#m" x="113" y="864"/><use href="#m" x="113" y="851"/><use href="#m" x="114" y="865"/><use href="#m" x="115" y="865"/><use href="#m" x="115" y="863"/><use href="#m" x="116" y="864"/><use href="#m" x="116" y="865"/><use href="#m" x="117" y="865"/><use href="#m" x="118" y="862"/><use href="#m" x="118" y="859"/><use href="#m" x="118" y="863"/><use href="#m" x="119" y="858"/><use href="#m" x="119" y="859"/><use href="#m" x="120" y="860"/><use href="#m" x="120" y="865"/><use href="#m" x="121" y="864"/><use href="#m" x="121" y="857"/><use href="#m" x="122" y="864"/><use href="#m" x="122" y="865"/><use href="#m" x="122" y="859"/><use href="#m" x="123" y="849"/><use href="#m" x="123" y="865"/><use href="#m" x="124" y="860"/><use href="#m" x="124" y="859"/><use href="#m" x="125" y="865"/><use href="#m" x="125" y="859"/><use href="#m" x="126" y="860"/><use href="#m" x="126" y="865"/><use href="#m" x="127" y="854"/><use href="#m" x="127" y="860"/><use href="#m" x="127" y="857"/><use href="#m" x="128" y="850"/><use href="#m" x="128" y="863"/><use href="#m" x="129" y="865"/><use href="#m" x="129" y="863"/><use href="#m" x="130" y="865"/><use href="#m" x="130" y="864"/><use href="#m" x="131" y="865"/><use href="#m" x="131" y="864"/><use href="#m" x="132" y="856"/><use href="#m" x="132" y="858"/><use href="#m" x="133" y="865"/><use href="#m" x="133" y="857"/><use href="#m" x="133" y="862"/><use href="#m" x="134" y="855"/><use href="#m" x="135" y="865"/><use href="#m" x="135" y="859"/><use href="#m" x="136" y="861"/><use href="#m" x="136" y="859"/><use href="#m" x="137" y="852"/><use href="#m" x="137" y="863"/><use href="#m" x="138" y="865"/><use href="#m" x="138" y="860"/><use href="#m" x="139" y="864"/><use href="#m" x="139" y="859"/><use href="#m" x="139" y="855"/><use href="#m" x="140" y="865"/><use href="#m" x="141" y="865"/><use href="#m" x="141" y="859"/><use href="#m" x="141" y="862"/><use href="#m" x="142" y="865"/><use href="#m" x="142" y="864"/><use href="#m" x="143" y="864"/><use href="#m" x="143" y="857"/><use href="#m" x="143" y="852"/><use href="#m" x="144" y="857"/><use href="#m" x="144" y="862"/><use href="#m" x="145" y="863"/><use href="#m" x="146" y="859"/><use href="#m" x="146" y="862"/><use href="#m" x="147" y="860"/><use href="#m" x="147" y="864"/><use href="#m" x="147" y="855"/><use href="#m" x="148" y="861"/><use href="#m" x="149" y="864"/><use href="#m" x="149" y="865"/><use href="#m" x="150" y="861"/><use href="#m" x="150" y="865"/><use href="#m" x="151" y="865"/><use href="#m" x="151" y="864"/><use href="#m" x="152" y="860"/><use href="#m" x="152" y="863"/><use href="#m" x="153" y="865"/><use href="#m" x="154" y="862"/><use href="#m" x="154" y="865"/><use href="#m" x="155" y="865"/><use href="#m" x="155" y="863"/><use href="#m" x="156" y="861"/><use href="#m" x="156" y="859"/><use href="#m" x="157" y="862"/><use href="#m" x="158" y="858"/><use href="#m" x="158" y="865"/><use href="#m" x="158" y="861"/><use href="#m" x="159" y="864"/><use href="#m" x="159" y="865"/><use href="#m" x="160" y="860"/><use href="#m" x="160" y="865"/><use href="#m" x="160" y="864"/><use href="#m" x="161" y="864"/><use href="#m" x="161" y="865"/><use href="#m" x="162" y="862"/><use href="#m" x="162" y="865"/><use href="#m" x="163" y="863"/><use href="#m" x="163" y="862"/><use href="#m" x="164" y="864"/><use href="#m" x="164" y="855"/><use href="#m" x="164" y="861"/><use href="#m" x="165" y="851"/><use href="#m" x="166" y="863"/><use href="#m" x="166" y="861"/><use href="#m" x="166" y="864"/><use href="#m" x="167" y="865"/><use href="#m" x="168" y="864"/><use href="#m" x="168" y="863"/><use href="#m" x="168" y="858"/><use href="#m" x="169" y="865"/><use href="#m" x="170" y="861"/><use href="#m" x="171" y="856"/><use href="#m" x="171" y="862"/><use href="#m" x="172" y="865"/><use href="#m" x="172" y="864"/><use href="#m" x="172" y="862"/><use href="#m" x="173" y="858"/><use href="#m" x="173" y="865"/><use href="#m" x="174" y="864"/><use href="#m" x="174" y="865"/><use href="#m" x="174" y="859"/><use href="#m" x="175" y="856"/><use href="#m" x="175" y="857"/><use href="#m" x="175" y="854"/><use href="#m" x="176" y="865"/><use href="#m" x="177" y="860"/><use href="#m" x="177" y="864"/><use href="#m" x="177" y="865"/><use href="#m" x="178" y="865"/><use href="#m" x="179" y="860"/><use href="#m" x="180" y="865"/><use href="#m" x="180" y="862"/><use href="#m" x="181" y="862"/><use href="#m" x="182" y="862"/><use href="#m" x="182" y="863"/><use href="#m" x="183" y="860"/><use href="#m" x="183" y="865"/><use href="#m" x="184" y="859"/><use href="#m" x="184" y="858"/><use href="#m" x="185" y="865"/><use href="#m" x="185" y="861"/><use href="#m" x="185" y="862"/><use href="#m" x="186" y="865"/><use href="#m" x="186" y="864"/><use href="#m" x="187" y="861"/><use href="#m" x="187" y="862"/><use href="#m" x="188" y="864"/><use href="#m" x="188" y="863"/><use href="#m" x="189" y="865"/><use href="#m" x="189" y="861"/><use href="#m" x="189" y="864"/><use href="#m" x="190" y="864"/><use href="#m" x="191" y="865"/><use href="#m" x="191" y="864"/><use href="#m" x="192" y="864"/><use href="#m" x="192" y="857"/><use href="#m" x="193" y="864"/><use href="#m" x="193" y="865"/><use href="#m" x="193" y="863"/><use href="#m" x="194" y="864"/><use href="#m" x="194" y="863"/><use href="#m" x="195" y="862"/><use href="#m" x="196" y="864"/><use href="#m" x="196" y="859"/><use href="#m" x="196" y="863"/><use href="#m" x="197" y="865"/><use href="#m" x="197" y="864"/><use href="#m" x="198" y="861"/><use href="#m" x="199" y="865"/><use href="#m" x="199" y="864"/><use href="#m" x="200" y="853"/><use href="#m" x="200" y="863"/><use href="#m" x="200" y="865"/><use href="#m" x="201" y="865"/><use href="#m" x="202" y="858"/><use href="#m" x="202" y="865"/><use href="#m" x="203" y="856"/><use href="#m" x="203" y="865"/><use href="#m" x="204" y="857"/><use href="#m" x="205" y="860"/><use href="#m" x="205" y="858"/><use href="#m" x="205" y="865"/><use href="#m" x="206" y="853"/><use href="#m" x="206" y="856"/><use href="#m" x="207" y="863"/><use href="#m" x="207" y="864"/><use href="#m" x="208" y="859"/><use href="#m" x="208" y="865"/><use href="#m" x="209" y="864"/><use href="#m" x="210" y="864"/><use href="#m" x="210" y="865"/><use href="#m" x="211" y="855"/><use href="#m" x="211" y="860"/><use href="#m" x="211" y="864"/><use href="#m" x="212" y="865"/><use href="#m" x="213" y="862"/><use href="#m" x="213" y="865"/><use href="#m" x="213" y="857"/><use href="#m" x="214" y="865"/><use href="#m" x="214" y="858"/><use href="#m" x="215" y="864"/><use href="#m" x="215" y="854"/><use href="#m" x="215" y="865"/><use href="#m" x="216" y="864"/><use href="#m" x="216" y="863"/><use href="#m" x="216" y="858"/><use href="#m" x="217" y="865"/><use href="#m" x="217" y="864"/><use href="#m" x="218" y="864"/><use href="#m" x="218" y="860"/><use href="#m" x="218" y="861"/><use href="#m" x="219" y="856"/><use href="#m" x="219" y="860"/><use href="#m" x="219" y="865"/><use href="#m" x="220" y="859"/><use href="#m" x="220" y="850"/><use href="#m" x="221" y="863"/><use href="#m" x="221" y="864"/><use href="#m" x="221" y="856"/><use href="#m" x="222" y="864"/><use href="#m" x="222" y="865"/><use href="#m" x="222" y="863"/><use href="#m" x="223" y="865"/><use href="#m" x="223" y="863"/><use href="#m" x="224" y="863"/><use href="#m" x="224" y="865"/><use href="#m" x="224" y="861"/><use href="#m" x="225" y="860"/><use href="#m" x="225" y="859"/><use href="#m" x="225" y="862"/><use href="#m" x="226" y="865"/><use href="#m" x="226" y="862"/><use href="#m" x="227" y="857"/><use href="#m" x="228" y="859"/><use href="#m" x="229" y="864"/><use href="#m" x="229" y="858"/><use href="#m" x="229" y="860"/><use href="#m" x="230" y="860"/><use href="#m" x="230" y="864"/><use href="#m" x="231" y="862"/><use href="#m" x="231" y="865"/><use href="#m" x="232" y="865"/><use href="#m" x="233" y="861"/><use href="#m" x="233" y="864"/><use href="#m" x="234" y="858"/><use href="#m" x="235" y="863"/><use href="#m" x="235" y="858"/><use href="#m" x="236" y="864"/><use href="#m" x="236" y="865"/><use href="#m" x="237" y="862"/><use href="#m" x="238" y="863"/><use href="#m" x="238" y="865"/><use href="#m" x="238" y="859"/><use href="#m" x="239" y="863"/><use href="#m" x="239" y="865"/><use href="#m" x="240" y="865"/><use href="#m" x="240" y="862"/><use href="#m" x="241" y="865"/><use href="#m" x="241" y="860"/><use href="#m" x="242" y="852"/><use href="#m" x="242" y="865"/><use href="#m" x="243" y="865"/><use href="#m" x="243" y="854"/><use href="#m" x="244" y="865"/><use href="#m" x="244" y="858"/><use href="#m" x="245" y="862"/><use href="#m" x="245" y="854"/><use href="#m" x="246" y="864"/><use href="#m" x="247" y="859"/><use href="#m" x="247" y="865"/><use href="#m" x="247" y="860"/><use href="#m" x="248" y="864"/><use href="#m" x="248" y="865"/><use href="#m" x="249" y="861"/><use href="#m" x="249" y="855"/><use href="#m" x="250" y="864"/><use href="#m" x="251" y="864"/><use href="#m" x="251" y="865"/><use href="#m" x="251" y="862"/><use href="#m" x="252" y="864"/><use href="#m" x="252" y="865"/><use href="#m" x="253" y="862"/><use href="#m" x="253" y="864"/><use href="#m" x="254" y="859"/><use href="#m" x="254" y="863"/><use href="#m" x="255" y="864"/><use href="#m" x="255" y="861"/><use href="#m" x="255" y="859"/><use href="#m" x="256" y="864"/><use href="#m" x="257" y="865"/><use href="#m" x="258" y="865"/><use href="#m" x="258" y="864"/><use href="#m" x="259" y="854"/><use href="#m" x="260" y="863"/><use href="#m" x="260" y="859"/><use href="#m" x="260" y="861"/><use href="#m" x="261" y="860"/><use href="#m" x="261" y="863"/><use href="#m" x="261" y="865"/><use href="#m" x="262" y="865"/><use href="#m" x="262" y="862"/><use href="#m" x="263" y="865"/><use href="#m" x="263" y="860"/><use href="#m" x="264" y="855"/><use href="#m" x="264" y="864"/><use href="#m" x="265" y="865"/><use href="#m" x="265" y="859"/><use href="#m" x="266" y="865"/><use href="#m" x="266" y="863"/><use href="#m" x="267" y="865"/><use href="#m" x="268" y="863"/><use href="#m" x="268" y="858"/><use href="#m" x="269" y="865"/><use href="#m" x="269" y="856"/><use href="#m" x="270" y="865"/><use href="#m" x="271" y="865"/><use href="#m" x="271" y="856"/><use href="#m" x="271" y="864"/><use href="#m" x="272" y="863"/><use href="#m" x="272" y="862"/><use href="#m" x="273" y="865"/><use href="#m" x="273" y="861"/><use href="#m" x="274" y="864"/><use href="#m" x="274" y="865"/><use href="#m" x="275" y="864"/><use href="#m" x="275" y="865"/><use href="#m" x="276" y="860"/><use href="#m" x="276" y="863"/><use href="#m" x="276" y="865"/><use href="#m" x="277" y="863"/><use href="#m" x="277" y="864"/><use href="#m" x="277" y="856"/><use href="#m" x="279" y="864"/><use href="#m" x="279" y="862"/><use href="#m" x="280" y="864"/><use href="#m" x="280" y="865"/><use href="#m" x="281" y="865"/><use href="#m" x="282" y="862"/><use href="#m" x="282" y="865"/><use href="#m" x="282" y="863"/><use href="#m" x="283" y="864"/><use href="#m" x="283" y="854"/><use href="#m" x="284" y="861"/><use href="#m" x="284" y="863"/><use href="#m" x="285" y="864"/><use href="#m" x="285" y="857"/><use href="#m" x="286" y="855"/><use href="#m" x="286" y="865"/><use href="#m" x="287" y="864"/><use href="#m" x="287" y="863"/><use href="#m" x="287" y="861"/><use href="#m" x="288" y="864"/><use href="#m" x="289" y="864"/><use href="#m" x="290" y="865"/><use href="#m" x="290" y="864"/><use href="#m" x="291" y="864"/><use href="#m" x="291" y="865"/><use href="#m" x="291" y="861"/><use href="#m" x="292" y="856"/><use href="#m" x="292" y="865"/><use href="#m" x="293" y="856"/><use href="#m" x="293" y="865"/><use href="#m" x="294" y="865"/><use href="#m" x="294" y="863"/><use href="#m" x="295" y="861"/><use href="#m" x="296" y="860"/><use href="#m" x="296" y="855"/><use href="#m" x="296" y="858"/><use href="#m" x="297" y="865"/><use href="#m" x="297" y="862"/><use href="#m" x="297" y="864"/><use href="#m" x="298" y="863"/><use href="#m" x="299" y="864"/><use href="#m" x="299" y="865"/><use href="#m" x="300" y="854"/><use href="#m" x="300" y="864"/><use href="#m" x="301" y="865"/><use href="#m" x="301" y="863"/><use href="#m" x="302" y="865"/><use href="#m" x="303" y="865"/><use href="#m" x="303" y="860"/><use href="#m" x="304" y="865"/><use href="#m" x="304" y="858"/><use href="#m" x="304" y="863"/><use href="#m" x="305" y="865"/><use href="#m" x="305" y="862"/><use href="#m" x="305" y="863"/><use href="#m" x="306" y="862"/><use href="#m" x="307" y="865"/><use href="#m" x="307" y="860"/><use href="#m" x="308" y="865"/><use href="#m" x="308" y="864"/><use href="#m" x="308" y="862"/><use href="#m" x="309" y="864"/><use href="#m" x="309" y="863"/><use href="#m" x="310" y="865"/><use href="#m" x="311" y="864"/><use href="#m" x="312" y="861"/><use href="#m" x="312" y="864"/><use href="#m" x="312" y="855"/><use href="#m" x="313" y="863"/><use href="#m" x="313" y="861"/><use href="#m" x="314" y="862"/><use href="#m" x="314" y="863"/><use href="#m" x="315" y="864"/><use href="#m" x="315" y="863"/><use href="#m" x="316" y="864"/><use href="#m" x="316" y="865"/><use href="#m" x="316" y="858"/><use href="#m" x="317" y="865"/><use href="#m" x="318" y="865"/><use href="#m" x="318" y="854"/><use href="#m" x="319" y="864"/><use href="#m" x="319" y="865"/><use href="#m" x="320" y="865"/><use href="#m" x="321" y="865"/><use href="#m" x="321" y="864"/><use href="#m" x="321" y="854"/><use href="#m" x="322" y="865"/><use href="#m" x="322" y="864"/><use href="#m" x="323" y="864"/><use href="#m" x="323" y="865"/><use href="#m" x="324" y="851"/><use href="#m" x="324" y="864"/><use href="#m" x="324" y="862"/><use href="#m" x="325" y="855"/><use href="#m" x="325" y="862"/><use href="#m" x="326" y="864"/><use href="#m" x="327" y="864"/><use href="#m" x="327" y="865"/><use href="#m" x="328" y="861"/><use href="#m" x="328" y="863"/><use href="#m" x="329" y="857"/><use href="#m" x="329" y="864"/><use href="#m" x="330" y="865"/><use href="#m" x="330" y="859"/><use href="#m" x="330" y="864"/><use href="#m" x="331" y="853"/><use href="#m" x="331" y="861"/><use href="#m" x="332" y="855"/><use href="#m" x="332" y="859"/><use href="#m" x="332" y="864"/><use href="#m" x="333" y="863"/><use href="#m" x="333" y="865"/><use href="#m" x="333" y="859"/><use href="#m" x="334" y="863"/><use href="#m" x="334" y="865"/><use href="#m" x="335" y="864"/><use href="#m" x="335" y="863"/><use href="#m" x="335" y="862"/><use href="#m" x="336" y="854"/><use href="#m" x="336" y="864"/><use href="#m" x="337" y="864"/><use href="#m" x="337" y="861"/><use href="#m" x="338" y="865"/><use href="#m" x="339" y="856"/><use href="#m" x="339" y="854"/><use href="#m" x="340" y="861"/><use href="#m" x="340" y="865"/><use href="#m" x="341" y="861"/><use href="#m" x="341" y="863"/><use href="#m" x="342" y="864"/><use href="#m" x="343" y="865"/><use href="#m" x="343" y="858"/><use href="#m" x="344" y="862"/><use href="#m" x="344" y="857"/><use href="#m" x="345" y="859"/><use href="#m" x="345" y="865"/><use href="#m" x="346" y="860"/><use href="#m" x="346" y="865"/><use href="#m" x="347" y="854"/><use href="#m" x="347" y="855"/><use href="#m" x="348" y="857"/><use href="#m" x="348" y="862"/><use href="#m" x="349" y="861"/><use href="#m" x="349" y="860"/><use href="#m" x="349" y="852"/><use href="#m" x="350" y="859"/><use href="#m" x="350" y="865"/><use href="#m" x="351" y="865"/><use href="#m" x="351" y="861"/><use href="#m" x="352" y="861"/><use href="#m" x="352" y="865"/><use href="#m" x="353" y="864"/><use href="#m" x="353" y="865"/><use href="#m" x="354" y="861"/><use href="#m" x="354" y="865"/><use href="#m" x="354" y="864"/><use href="#m" x="355" y="865"/><use href="#m" x="356" y="865"/><use href="#m" x="356" y="863"/><use href="#m" x="357" y="864"/><use href="#m" x="357" y="865"/><use href="#m" x="358" y="863"/><use href="#m" x="358" y="860"/><use href="#m" x="358" y="865"/><use href="#m" x="359" y="862"/><use href="#m" x="359" y="864"/><use href="#m" x="360" y="856"/><use href="#m" x="360" y="861"/><use href="#m" x="360" y="863"/><use href="#m" x="361" y="856"/><use href="#m" x="361" y="860"/><use href="#m" x="362" y="862"/><use href="#m" x="362" y="864"/><use href="#m" x="362" y="865"/><use href="#m" x="363" y="860"/><use href="#m" x="363" y="865"/><use href="#m" x="364" y="859"/><use href="#m" x="364" y="860"/><use href="#m" x="365" y="865"/><use href="#m" x="365" y="861"/><use href="#m" x="365" y="853"/><use href="#m" x="366" y="855"/><use href="#m" x="366" y="863"/><use href="#m" x="366" y="864"/><use href="#m" x="367" y="865"/><use href="#m" x="368" y="865"/><use href="#m" x="368" y="864"/><use href="#m" x="368" y="863"/><use href="#m" x="369" y="865"/><use href="#m" x="369" y="861"/><use href="#m" x="370" y="864"/><use href="#m" x="370" y="863"/><use href="#m" x="371" y="865"/><use href="#m" x="371" y="862"/><use href="#m" x="372" y="862"/><use href="#m" x="373" y="855"/><use href="#m" x="374" y="864"/><use href="#m" x="374" y="858"/><use href="#m" x="374" y="854"/><use href="#m" x="375" y="865"/><use href="#m" x="375" y="851"/><use href="#m" x="376" y="863"/><use href="#m" x="376" y="859"/><use href="#m" x="377" y="865"/><use href="#m" x="377" y="854"/><use href="#m" x="377" y="858"/><use href="#m" x="379" y="865"/><use href="#m" x="379" y="857"/><use href="#m" x="380" y="864"/><use href="#m" x="380" y="865"/><use href="#m" x="380" y="858"/><use href="#m" x="381" y="856"/><use href="#m" x="381" y="858"/><use href="#m" x="382" y="863"/><use href="#m" x="382" y="865"/><use href="#m" x="382" y="862"/><use href="#m" x="383" y="859"/><use href="#m" x="383" y="863"/><use href="#m" x="384" y="864"/><use href="#m" x="384" y="865"/><use href="#m" x="384" y="861"/><use href="#m" x="385" y="865"/><use href="#m" x="385" y="864"/><use href="#m" x="385" y="852"/><use href="#m" x="386" y="865"/><use href="#m" x="386" y="858"/><use href="#m" x="387" y="863"/><use href="#m" x="387" y="858"/><use href="#m" x="388" y="863"/><use href="#m" x="388" y="864"/><use href="#m" x="388" y="856"/><use href="#m" x="389" y="862"/><use href="#m" x="389" y="865"/><use href="#m" x="390" y="865"/><use href="#m" x="391" y="860"/><use href="#m" x="391" y="864"/><use href="#m" x="392" y="865"/><use href="#m" x="392" y="864"/><use href="#m" x="393" y="855"/><use href="#m" x="393" y="863"/><use href="#m" x="393" y="861"/><use href="#m" x="394" y="861"/><use href="#m" x="394" y="854"/><use href="#m" x="394" y="865"/><use href="#m" x="395" y="863"/><use href="#m" x="395" y="864"/><use href="#m" x="396" y="861"/><use href="#m" x="396" y="863"/><use href="#m" x="397" y="863"/><use href="#m" x="398" y="864"/><use href="#m" x="398" y="863"/><use href="#m" x="399" y="864"/><use href="#m" x="400" y="864"/><use href="#m" x="400" y="859"/><use href="#m" x="401" y="864"/><use href="#m" x="401" y="860"/><use href="#m" x="402" y="865"/><use href="#m" x="402" y="863"/><use href="#m" x="403" y="864"/><use href="#m" x="403" y="865"/><use href="#m" x="404" y="865"/><use href="#m" x="404" y="864"/><use href="#m" x="404" y="862"/><use href="#m" x="405" y="862"/><use href="#m" x="405" y="864"/><use href="#m" x="406" y="862"/><use href="#m" x="406" y="864"/><use href="#m" x="407" y="864"/><use href="#m" x="408" y="861"/><use href="#m" x="408" y="858"/><use href="#m" x="409" y="865"/><use href="#m" x="410" y="861"/><use href="#m" x="410" y="853"/><use href="#m" x="410" y="864"/><use href="#m" x="411" y="858"/><use href="#m" x="411" y="861"/><use href="#m" x="412" y="855"/><use href="#m" x="412" y="864"/><use href="#m" x="413" y="865"/><use href="#m" x="413" y="857"/><use href="#m" x="414" y="854"/><use href="#m" x="414" y="864"/><use href="#m" x="415" y="857"/><use href="#m" x="415" y="864"/><use href="#m" x="415" y="862"/><use href="#m" x="416" y="858"/><use href="#m" x="416" y="864"/><use href="#m" x="417" y="864"/><use href="#m" x="417" y="855"/><use href="#m" x="418" y="861"/><use href="#m" x="418" y="865"/><use href="#m" x="418" y="858"/><use href="#m" x="419" y="865"/><use href="#m" x="419" y="855"/><use href="#m" x="420" y="864"/><use href="#m" x="420" y="862"/><use href="#m" x="420" y="861"/><use href="#m" x="421" y="864"/><use href="#m" x="421" y="861"/><use href="#m" x="421" y="856"/><use href="#m" x="422" y="859"/><use href="#m" x="422" y="865"/><use href="#m" x="423" y="860"/><use href="#m" x="423" y="862"/><use href="#m" x="423" y="863"/><use href="#m" x="424" y="859"/><use href="#m" x="424" y="863"/><use href="#m" x="425" y="865"/><use href="#m" x="425" y="861"/><use href="#m" x="426" y="865"/><use href="#m" x="427" y="864"/><use href="#m" x="427" y="865"/><use href="#m" x="428" y="865"/><use href="#m" x="428" y="864"/><use href="#m" x="429" y="865"/><use href="#m" x="430" y="864"/><use href="#m" x="430" y="865"/><use href="#m" x="431" y="865"/><use href="#m" x="431" y="857"/><use href="#m" x="432" y="862"/><use href="#m" x="432" y="858"/><use href="#m" x="432" y="863"/><use href="#m" x="79" y="596"/><use href="#m" x="79" y="794"/><use href="#m" x="230" y="770"/><use href="#m" x="224" y="791"/><use href="#m" x="212" y="795"/><use href="#m" x="258" y="639"/><use href="#m" x="380" y="725"/><use href="#m" x="424" y="780"/><use href="#m" x="330" y="800"/><use href="#m" x="87" y="805"/><use href="#m" x="99" y="812"/><use href="#m" x="107" y="825"/><use href="#m" x="86" y="833"/><use href="#m" x="108" y="834"/><use href="#m" x="112" y="831"/><use href="#m" x="112" y="833"/><use href="#m" x="150" y="815"/><use href="#m" x="160" y="817"/><use href="#m" x="167" y="831"/><use href="#m" x="169" y="831"/><use href="#m" x="173" y="835"/><use href="#m" x="191" y="814"/><use href="#m" x="195" y="833"/><use href="#m" x="208" y="824"/><use href="#m" x="225" y="804"/><use href="#m" x="221" y="833"/><use href="#m" x="222" y="834"/><use href="#m" x="243" y="834"/><use href="#m" x="250" y="834"/><use href="#m" x="253" y="837"/><use href="#m" x="259" y="838"/><use href="#m" x="85" y="841"/><use href="#m" x="89" y="840"/><use href="#m" x="94" y="839"/><use href="#m" x="82" y="849"/><use href="#m" x="83" y="849"/><use href="#m" x="93" y="847"/><use href="#m" x="98" y="848"/><use href="#m" x="127" y="839"/><use href="#m" x="133" y="842"/><use href="#m" x="119" y="845"/><use href="#m" x="126" y="845"/><use href="#m" x="137" y="846"/><use href="#m" x="115" y="849"/><use href="#m" x="134" y="850"/><use href="#m" x="150" y="845"/><use href="#m" x="167" y="839"/><use href="#m" x="166" y="846"/><use href="#m" x="166" y="849"/><use href="#m" x="174" y="848"/><use href="#m" x="178" y="852"/><use href="#m" x="186" y="842"/><use href="#m" x="194" y="842"/><use href="#m" x="192" y="849"/><use href="#m" x="200" y="851"/><use href="#m" x="212" y="845"/><use href="#m" x="213" y="850"/><use href="#m" x="227" y="847"/><use href="#m" x="244" y="841"/><use href="#m" x="245" y="845"/><use href="#m" x="250" y="846"/><use href="#m" x="252" y="849"/><use href="#m" x="158" y="851"/><use href="#m" x="147" y="853"/><use href="#m" x="101" y="852"/><use href="#m" x="226" y="870"/><use href="#m" x="251" y="870"/><use href="#m" x="249" y="877"/><use href="#m" x="86" y="867"/><use href="#m" x="328" y="817"/><use href="#m" x="330" y="825"/><use href="#m" x="312" y="838"/><use href="#m" x="365" y="831"/><use href="#m" x="386" y="836"/><use href="#m" x="389" y="804"/><use href="#m" x="399" y="813"/><use href="#m" x="416" y="806"/><use href="#m" x="415" y="826"/><use href="#m" x="410" y="833"/><use href="#m" x="421" y="837"/><use href="#m" x="266" y="846"/><use href="#m" x="274" y="845"/><use href="#m" x="272" y="851"/><use href="#m" x="284" y="848"/><use href="#m" x="297" y="848"/><use href="#m" x="311" y="847"/><use href="#m" x="327" y="847"/><use href="#m" x="344" y="847"/><use href="#m" x="366" y="848"/><use href="#m" x="372" y="847"/><use href="#m" x="379" y="842"/><use href="#m" x="379" y="851"/><use href="#m" x="408" y="845"/><use href="#m" x="427" y="844"/><use href="#m" x="427" y="846"/><use href="#m" x="432" y="853"/><use href="#m" x="414" y="851"/><use href="#m" x="419" y="852"/><use href="#m" x="263" y="852"/><use href="#m" x="339" y="851"/><use href="#m" x="336" y="852"/><use href="#m" x="324" y="854"/><use href="#m" x="348" y="852"/><use href="#m" x="388" y="853"/><use href="#m" x="319" y="871"/><use href="#m" x="331" y="873"/><use href="#m" x="339" y="872"/><use href="#m" x="345" y="872"/><use href="#m" x="411" y="876"/><use href="#m" x="422" y="870"/><use href="#m" x="428" y="871"/><use href="#m" x="282" y="870"/><use href="#m" x="370" y="869"/>
</g>
<g stroke="#000" stroke-width="1" fill="none" shape-rendering="crispEdges">
<rect x="65.5" y="569.5" width="381" height="309"/>
<line x1="79.5" y1="878.5" x2="79.5" y2="887.0"/>
<line x1="154.5" y1="878.5" x2="154.5" y2="887.0"/>
<line x1="230.5" y1="878.5" x2="230.5" y2="887.0"/>
<line x1="306.5" y1="878.5" x2="306.5" y2="887.0"/>
<line x1="382.5" y1="878.5" x2="382.5" y2="887.0"/>
<line x1="57.0" y1="867.5" x2="65.5" y2="867.5"/>
<line x1="57.0" y1="815.5" x2="65.5" y2="815.5"/>
<line x1="57.0" y1="764.5" x2="65.5" y2="764.5"/>
<line x1="57.0" y1="712.5" x2="65.5" y2="712.5"/>
<line x1="57.0" y1="661.5" x2="65.5" y2="661.5"/>
<line x1="57.0" y1="609.5" x2="65.5" y2="609.5"/>
</g>
<line x1="65.5" y1="795.5" x2="447.0" y2="795.5" stroke="#f00" stroke-width="1" shape-rendering="crispEdges"/>
<g font-family='"Liberation Sans", sans-serif' font-size="14" fill="#000" text-anchor="middle">
<text transform="translate(78.30,908.00) scale(0.9,1)">0</text>
<text transform="translate(153.30,908.00) scale(0.9,1)">200</text>
<text transform="translate(229.30,908.00) scale(0.9,1)">400</text>
<text transform="translate(305.30,908.00) scale(0.9,1)">600</text>
<text transform="translate(381.30,908.00) scale(0.9,1)">800</text>
<text transform="translate(254.80,940.00) scale(0.9,1)">t</text>
<text transform="translate(46.80,867.50) rotate(-90) scale(0.9,1)">0.00</text>
<text transform="translate(46.80,815.50) rotate(-90) scale(0.9,1)">0.01</text>
<text transform="translate(46.80,764.50) rotate(-90) scale(0.9,1)">0.02</text>
<text transform="translate(46.80,712.50) rotate(-90) scale(0.9,1)">0.03</text>
<text transform="translate(46.80,661.50) rotate(-90) scale(0.9,1)">0.04</text>
<text transform="translate(46.80,609.50) rotate(-90) scale(0.9,1)">0.05</text>
<text transform="translate(14.80,724.00) rotate(-90) scale(0.9,1)">C_i_phi</text>
<text transform="translate(79.00,589.00) scale(0.9,1)">1</text>
<text transform="translate(79.00,787.00) scale(0.9,1)">2</text>
<text transform="translate(230.00,763.00) scale(0.9,1)">399</text>
<text transform="translate(224.00,784.00) scale(0.9,1)">384</text>
<text transform="translate(258.00,632.00) scale(0.9,1)">474</text>
<text transform="translate(380.00,718.00) scale(0.9,1)">794</text>
<text transform="translate(424.00,773.00) scale(0.9,1)">914</text>
</g>
</g>
<g id="p4">
<g fill="#000" shape-rendering="crispEdges">
<use href="#m" x="560" y="865"/><use href="#m" x="560" y="861"/><use href="#m" x="560" y="853"/><use href="#m" x="561" y="854"/><use href="#m" x="562" y="863"/><use href="#m" x="562" y="865"/><use href="#m" x="563" y="861"/><use href="#m" x="563" y="856"/><use href="#m" x="563" y="862"/><use href="#m" x="564" y="855"/><use href="#m" x="564" y="861"/><use href="#m" x="565" y="863"/><use href="#m" x="565" y="865"/><use href="#m" x="566" y="865"/><use href="#m" x="566" y="864"/><use href="#m" x="566" y="854"/><use href="#m" x="567" y="854"/><use href="#m" x="567" y="865"/><use href="#m" x="568" y="865"/><use href="#m" x="569" y="864"/><use href="#m" x="569" y="863"/><use href="#m" x="570" y="859"/><use href="#m" x="570" y="865"/><use href="#m" x="571" y="863"/><use href="#m" x="571" y="855"/><use href="#m" x="572" y="864"/><use href="#m" x="573" y="851"/><use href="#m" x="573" y="864"/><use href="#m" x="574" y="863"/><use href="#m" x="574" y="851"/><use href="#m" x="575" y="862"/><use href="#m" x="575" y="864"/><use href="#m" x="576" y="865"/><use href="#m" x="576" y="861"/><use href="#m" x="577" y="864"/><use href="#m" x="577" y="856"/><use href="#m" x="577" y="860"/><use href="#m" x="578" y="865"/><use href="#m" x="579" y="862"/><use href="#m" x="579" y="865"/><use href="#m" x="580" y="864"/><use href="#m" x="580" y="863"/><use href="#m" x="580" y="865"/><use href="#m" x="581" y="865"/><use href="#m" x="582" y="865"/><use href="#m" x="582" y="860"/><use href="#m" x="583" y="863"/><use href="#m" x="583" y="865"/><use href="#m" x="583" y="858"/><use href="#m" x="584" y="862"/><use href="#m" x="584" y="860"/><use href="#m" x="585" y="856"/><use href="#m" x="585" y="857"/><use href="#m" x="585" y="864"/><use href="#m" x="586" y="863"/><use href="#m" x="586" y="859"/><use href="#m" x="587" y="856"/><use href="#m" x="587" y="860"/><use href="#m" x="587" y="858"/><use href="#m" x="588" y="863"/><use href="#m" x="588" y="864"/><use href="#m" x="589" y="860"/><use href="#m" x="589" y="865"/><use href="#m" x="590" y="860"/><use href="#m" x="590" y="863"/><use href="#m" x="591" y="858"/><use href="#m" x="591" y="862"/><use href="#m" x="591" y="863"/><use href="#m" x="592" y="856"/><use href="#m" x="593" y="864"/><use href="#m" x="593" y="856"/><use href="#m" x="593" y="860"/><use href="#m" x="594" y="862"/><use href="#m" x="594" y="855"/><use href="#m" x="594" y="864"/><use href="#m" x="595" y="865"/><use href="#m" x="595" y="859"/><use href="#m" x="596" y="864"/><use href="#m" x="597" y="859"/><use href="#m" x="597" y="863"/><use href="#m" x="598" y="855"/><use href="#m" x="598" y="862"/><use href="#m" x="598" y="864"/><use href="#m" x="599" y="855"/><use href="#m" x="599" y="860"/><use href="#m" x="599" y="864"/><use href="#m" x="600" y="864"/><use href="#m" x="600" y="863"/><use href="#m" x="601" y="864"/><use href="#m" x="601" y="862"/><use href="#m" x="602" y="860"/><use href="#m" x="602" y="862"/><use href="#m" x="602" y="865"/><use href="#m" x="603" y="864"/><use href="#m" x="604" y="862"/><use href="#m" x="604" y="865"/><use href="#m" x="604" y="863"/><use href="#m" x="605" y="865"/><use href="#m" x="605" y="864"/><use href="#m" x="606" y="859"/><use href="#m" x="607" y="864"/><use href="#m" x="607" y="862"/><use href="#m" x="607" y="865"/><use href="#m" x="608" y="865"/><use href="#m" x="609" y="864"/><use href="#m" x="609" y="860"/><use href="#m" x="610" y="865"/><use href="#m" x="610" y="863"/><use href="#m" x="611" y="865"/><use href="#m" x="611" y="863"/><use href="#m" x="612" y="865"/><use href="#m" x="612" y="862"/><use href="#m" x="613" y="862"/><use href="#m" x="613" y="865"/><use href="#m" x="614" y="856"/><use href="#m" x="614" y="858"/><use href="#m" x="615" y="858"/><use href="#m" x="615" y="864"/><use href="#m" x="616" y="862"/><use href="#m" x="616" y="865"/><use href="#m" x="616" y="863"/><use href="#m" x="617" y="862"/><use href="#m" x="618" y="858"/><use href="#m" x="618" y="860"/><use href="#m" x="619" y="862"/><use href="#m" x="619" y="865"/><use href="#m" x="619" y="856"/><use href="#m" x="620" y="862"/><use href="#m" x="621" y="863"/><use href="#m" x="621" y="858"/><use href="#m" x="623" y="865"/><use href="#m" x="623" y="861"/><use href="#m" x="623" y="859"/><use href="#m" x="624" y="864"/><use href="#m" x="624" y="863"/><use href="#m" x="625" y="862"/><use href="#m" x="626" y="865"/><use href="#m" x="626" y="863"/><use href="#m" x="626" y="857"/><use href="#m" x="627" y="865"/><use href="#m" x="627" y="858"/><use href="#m" x="628" y="859"/><use href="#m" x="628" y="861"/><use href="#m" x="629" y="863"/><use href="#m" x="630" y="861"/><use href="#m" x="630" y="865"/><use href="#m" x="631" y="863"/><use href="#m" x="631" y="865"/><use href="#m" x="632" y="863"/><use href="#m" x="632" y="862"/><use href="#m" x="633" y="851"/><use href="#m" x="633" y="865"/><use href="#m" x="634" y="865"/><use href="#m" x="634" y="860"/><use href="#m" x="635" y="865"/><use href="#m" x="635" y="857"/><use href="#m" x="636" y="864"/><use href="#m" x="637" y="864"/><use href="#m" x="637" y="865"/><use href="#m" x="637" y="861"/><use href="#m" x="638" y="865"/><use href="#m" x="638" y="864"/><use href="#m" x="638" y="852"/><use href="#m" x="639" y="856"/><use href="#m" x="639" y="861"/><use href="#m" x="640" y="861"/><use href="#m" x="640" y="865"/><use href="#m" x="640" y="864"/><use href="#m" x="641" y="864"/><use href="#m" x="641" y="855"/><use href="#m" x="641" y="858"/><use href="#m" x="642" y="856"/><use href="#m" x="642" y="864"/><use href="#m" x="643" y="864"/><use href="#m" x="643" y="858"/><use href="#m" x="643" y="865"/><use href="#m" x="644" y="864"/><use href="#m" x="644" y="865"/><use href="#m" x="644" y="861"/><use href="#m" x="645" y="864"/><use href="#m" x="646" y="858"/><use href="#m" x="646" y="865"/><use href="#m" x="646" y="860"/><use href="#m" x="647" y="856"/><use href="#m" x="647" y="865"/><use href="#m" x="648" y="862"/><use href="#m" x="648" y="857"/><use href="#m" x="648" y="864"/><use href="#m" x="649" y="863"/><use href="#m" x="649" y="865"/><use href="#m" x="650" y="858"/><use href="#m" x="651" y="860"/><use href="#m" x="651" y="859"/><use href="#m" x="652" y="865"/><use href="#m" x="652" y="864"/><use href="#m" x="653" y="865"/><use href="#m" x="654" y="856"/><use href="#m" x="654" y="862"/><use href="#m" x="654" y="860"/><use href="#m" x="655" y="850"/><use href="#m" x="655" y="863"/><use href="#m" x="655" y="864"/><use href="#m" x="656" y="859"/><use href="#m" x="656" y="865"/><use href="#m" x="657" y="864"/><use href="#m" x="657" y="860"/><use href="#m" x="657" y="865"/><use href="#m" x="658" y="864"/><use href="#m" x="659" y="857"/><use href="#m" x="659" y="865"/><use href="#m" x="660" y="864"/><use href="#m" x="660" y="865"/><use href="#m" x="660" y="863"/><use href="#m" x="661" y="856"/><use href="#m" x="661" y="864"/><use href="#m" x="662" y="859"/><use href="#m" x="662" y="858"/><use href="#m" x="662" y="853"/><use href="#m" x="663" y="864"/><use href="#m" x="663" y="865"/><use href="#m" x="664" y="857"/><use href="#m" x="664" y="863"/><use href="#m" x="665" y="864"/><use href="#m" x="665" y="859"/><use href="#m" x="665" y="857"/><use href="#m" x="666" y="864"/><use href="#m" x="666" y="856"/><use href="#m" x="666" y="858"/><use href="#m" x="667" y="865"/><use href="#m" x="667" y="863"/><use href="#m" x="668" y="858"/><use href="#m" x="668" y="862"/><use href="#m" x="668" y="860"/><use href="#m" x="669" y="859"/><use href="#m" x="669" y="862"/><use href="#m" x="669" y="863"/><use href="#m" x="670" y="861"/><use href="#m" x="670" y="862"/><use href="#m" x="671" y="865"/><use href="#m" x="671" y="861"/><use href="#m" x="672" y="854"/><use href="#m" x="672" y="865"/><use href="#m" x="673" y="863"/><use href="#m" x="673" y="864"/><use href="#m" x="673" y="859"/><use href="#m" x="674" y="864"/><use href="#m" x="674" y="862"/><use href="#m" x="674" y="865"/><use href="#m" x="675" y="863"/><use href="#m" x="675" y="864"/><use href="#m" x="676" y="865"/><use href="#m" x="677" y="865"/><use href="#m" x="677" y="861"/><use href="#m" x="678" y="864"/><use href="#m" x="679" y="864"/><use href="#m" x="679" y="862"/><use href="#m" x="679" y="865"/><use href="#m" x="680" y="863"/><use href="#m" x="680" y="862"/><use href="#m" x="680" y="860"/><use href="#m" x="681" y="859"/><use href="#m" x="681" y="860"/><use href="#m" x="682" y="865"/><use href="#m" x="682" y="863"/><use href="#m" x="683" y="863"/><use href="#m" x="683" y="858"/><use href="#m" x="684" y="861"/><use href="#m" x="684" y="865"/><use href="#m" x="684" y="863"/><use href="#m" x="685" y="861"/><use href="#m" x="685" y="863"/><use href="#m" x="686" y="862"/><use href="#m" x="687" y="860"/><use href="#m" x="687" y="862"/><use href="#m" x="688" y="858"/><use href="#m" x="688" y="864"/><use href="#m" x="688" y="865"/><use href="#m" x="689" y="865"/><use href="#m" x="689" y="864"/><use href="#m" x="690" y="863"/><use href="#m" x="690" y="865"/><use href="#m" x="691" y="858"/><use href="#m" x="691" y="854"/><use href="#m" x="691" y="861"/><use href="#m" x="692" y="862"/><use href="#m" x="693" y="857"/><use href="#m" x="693" y="865"/><use href="#m" x="693" y="863"/><use href="#m" x="694" y="857"/><use href="#m" x="694" y="865"/><use href="#m" x="695" y="864"/><use href="#m" x="695" y="860"/><use href="#m" x="695" y="862"/><use href="#m" x="696" y="865"/><use href="#m" x="696" y="863"/><use href="#m" x="697" y="865"/><use href="#m" x="697" y="860"/><use href="#m" x="698" y="859"/><use href="#m" x="698" y="865"/><use href="#m" x="699" y="864"/><use href="#m" x="699" y="863"/><use href="#m" x="700" y="862"/><use href="#m" x="701" y="865"/><use href="#m" x="701" y="858"/><use href="#m" x="702" y="857"/><use href="#m" x="702" y="855"/><use href="#m" x="702" y="854"/><use href="#m" x="703" y="863"/><use href="#m" x="703" y="864"/><use href="#m" x="704" y="860"/><use href="#m" x="704" y="863"/><use href="#m" x="704" y="855"/><use href="#m" x="705" y="862"/><use href="#m" x="705" y="860"/><use href="#m" x="705" y="863"/><use href="#m" x="706" y="865"/><use href="#m" x="706" y="864"/><use href="#m" x="707" y="865"/><use href="#m" x="707" y="860"/><use href="#m" x="708" y="860"/><use href="#m" x="709" y="860"/><use href="#m" x="709" y="861"/><use href="#m" x="710" y="862"/><use href="#m" x="710" y="863"/><use href="#m" x="710" y="861"/><use href="#m" x="711" y="860"/><use href="#m" x="712" y="862"/><use href="#m" x="712" y="864"/><use href="#m" x="713" y="864"/><use href="#m" x="713" y="861"/><use href="#m" x="714" y="863"/><use href="#m" x="714" y="865"/><use href="#m" x="715" y="864"/><use href="#m" x="715" y="852"/><use href="#m" x="715" y="857"/><use href="#m" x="716" y="865"/><use href="#m" x="716" y="862"/><use href="#m" x="717" y="865"/><use href="#m" x="718" y="861"/><use href="#m" x="718" y="858"/><use href="#m" x="719" y="863"/><use href="#m" x="719" y="858"/><use href="#m" x="720" y="864"/><use href="#m" x="720" y="860"/><use href="#m" x="721" y="865"/><use href="#m" x="721" y="863"/><use href="#m" x="721" y="856"/><use href="#m" x="722" y="858"/><use href="#m" x="722" y="862"/><use href="#m" x="723" y="853"/><use href="#m" x="723" y="864"/><use href="#m" x="724" y="853"/><use href="#m" x="724" y="861"/><use href="#m" x="724" y="854"/><use href="#m" x="725" y="864"/><use href="#m" x="725" y="865"/><use href="#m" x="726" y="860"/><use href="#m" x="726" y="852"/><use href="#m" x="726" y="864"/><use href="#m" x="727" y="865"/><use href="#m" x="727" y="864"/><use href="#m" x="728" y="858"/><use href="#m" x="729" y="863"/><use href="#m" x="729" y="864"/><use href="#m" x="729" y="865"/><use href="#m" x="731" y="865"/><use href="#m" x="731" y="862"/><use href="#m" x="731" y="864"/><use href="#m" x="732" y="863"/><use href="#m" x="732" y="862"/><use href="#m" x="733" y="849"/><use href="#m" x="733" y="863"/><use href="#m" x="734" y="864"/><use href="#m" x="734" y="865"/><use href="#m" x="735" y="863"/><use href="#m" x="735" y="862"/><use href="#m" x="736" y="861"/><use href="#m" x="736" y="865"/><use href="#m" x="737" y="863"/><use href="#m" x="737" y="864"/><use href="#m" x="737" y="861"/><use href="#m" x="738" y="863"/><use href="#m" x="738" y="860"/><use href="#m" x="739" y="865"/><use href="#m" x="740" y="864"/><use href="#m" x="740" y="865"/><use href="#m" x="740" y="860"/><use href="#m" x="741" y="862"/><use href="#m" x="741" y="861"/><use href="#m" x="741" y="865"/><use href="#m" x="742" y="865"/><use href="#m" x="743" y="865"/><use href="#m" x="743" y="860"/><use href="#m" x="744" y="863"/><use href="#m" x="745" y="859"/><use href="#m" x="745" y="862"/><use href="#m" x="745" y="860"/><use href="#m" x="746" y="865"/><use href="#m" x="746" y="863"/><use href="#m" x="746" y="864"/><use href="#m" x="747" y="864"/><use href="#m" x="748" y="865"/><use href="#m" x="748" y="862"/><use href="#m" x="748" y="861"/><use href="#m" x="749" y="863"/><use href="#m" x="749" y="865"/><use href="#m" x="750" y="858"/><use href="#m" x="750" y="860"/><use href="#m" x="751" y="864"/><use href="#m" x="751" y="862"/><use href="#m" x="751" y="861"/><use href="#m" x="752" y="862"/><use href="#m" x="752" y="864"/><use href="#m" x="753" y="865"/><use href="#m" x="754" y="862"/><use href="#m" x="754" y="865"/><use href="#m" x="755" y="865"/><use href="#m" x="756" y="857"/><use href="#m" x="756" y="862"/><use href="#m" x="756" y="859"/><use href="#m" x="757" y="864"/><use href="#m" x="757" y="855"/><use href="#m" x="757" y="865"/><use href="#m" x="758" y="864"/><use href="#m" x="759" y="863"/><use href="#m" x="759" y="865"/><use href="#m" x="760" y="864"/><use href="#m" x="760" y="865"/><use href="#m" x="761" y="858"/><use href="#m" x="761" y="860"/><use href="#m" x="762" y="858"/><use href="#m" x="762" y="865"/><use href="#m" x="762" y="864"/><use href="#m" x="763" y="863"/><use href="#m" x="763" y="864"/><use href="#m" x="763" y="862"/><use href="#m" x="764" y="857"/><use href="#m" x="764" y="862"/><use href="#m" x="765" y="862"/><use href="#m" x="765" y="865"/><use href="#m" x="766" y="865"/><use href="#m" x="766" y="858"/><use href="#m" x="767" y="859"/><use href="#m" x="767" y="865"/><use href="#m" x="768" y="862"/><use href="#m" x="768" y="864"/><use href="#m" x="769" y="860"/><use href="#m" x="769" y="864"/><use href="#m" x="770" y="864"/><use href="#m" x="770" y="855"/><use href="#m" x="771" y="852"/><use href="#m" x="771" y="865"/><use href="#m" x="771" y="864"/><use href="#m" x="772" y="864"/><use href="#m" x="773" y="863"/><use href="#m" x="773" y="850"/><use href="#m" x="774" y="864"/><use href="#m" x="775" y="860"/><use href="#m" x="775" y="864"/><use href="#m" x="776" y="861"/><use href="#m" x="776" y="864"/><use href="#m" x="776" y="865"/><use href="#m" x="777" y="864"/><use href="#m" x="777" y="857"/><use href="#m" x="778" y="864"/><use href="#m" x="778" y="865"/><use href="#m" x="779" y="864"/><use href="#m" x="779" y="861"/><use href="#m" x="780" y="859"/><use href="#m" x="780" y="864"/><use href="#m" x="781" y="859"/><use href="#m" x="781" y="864"/><use href="#m" x="782" y="865"/><use href="#m" x="782" y="864"/><use href="#m" x="783" y="864"/><use href="#m" x="784" y="865"/><use href="#m" x="784" y="863"/><use href="#m" x="785" y="857"/><use href="#m" x="785" y="859"/><use href="#m" x="785" y="863"/><use href="#m" x="786" y="864"/><use href="#m" x="786" y="860"/><use href="#m" x="787" y="864"/><use href="#m" x="787" y="865"/><use href="#m" x="788" y="865"/><use href="#m" x="788" y="864"/><use href="#m" x="789" y="864"/><use href="#m" x="789" y="865"/><use href="#m" x="790" y="865"/><use href="#m" x="790" y="859"/><use href="#m" x="791" y="864"/><use href="#m" x="792" y="863"/><use href="#m" x="792" y="864"/><use href="#m" x="793" y="859"/><use href="#m" x="793" y="862"/><use href="#m" x="794" y="865"/><use href="#m" x="794" y="862"/><use href="#m" x="795" y="865"/><use href="#m" x="795" y="860"/><use href="#m" x="795" y="855"/><use href="#m" x="796" y="862"/><use href="#m" x="796" y="864"/><use href="#m" x="797" y="865"/><use href="#m" x="797" y="864"/><use href="#m" x="798" y="861"/><use href="#m" x="798" y="864"/><use href="#m" x="798" y="863"/><use href="#m" x="799" y="864"/><use href="#m" x="799" y="858"/><use href="#m" x="800" y="865"/><use href="#m" x="800" y="861"/><use href="#m" x="801" y="864"/><use href="#m" x="801" y="861"/><use href="#m" x="802" y="864"/><use href="#m" x="803" y="864"/><use href="#m" x="804" y="857"/><use href="#m" x="805" y="863"/><use href="#m" x="806" y="865"/><use href="#m" x="806" y="857"/><use href="#m" x="807" y="862"/><use href="#m" x="807" y="859"/><use href="#m" x="807" y="855"/><use href="#m" x="808" y="864"/><use href="#m" x="808" y="862"/><use href="#m" x="809" y="864"/><use href="#m" x="809" y="863"/><use href="#m" x="809" y="862"/><use href="#m" x="810" y="863"/><use href="#m" x="811" y="864"/><use href="#m" x="811" y="862"/><use href="#m" x="812" y="858"/><use href="#m" x="812" y="857"/><use href="#m" x="813" y="862"/><use href="#m" x="813" y="864"/><use href="#m" x="814" y="864"/><use href="#m" x="814" y="865"/><use href="#m" x="815" y="858"/><use href="#m" x="815" y="865"/><use href="#m" x="816" y="858"/><use href="#m" x="817" y="865"/><use href="#m" x="817" y="862"/><use href="#m" x="818" y="864"/><use href="#m" x="818" y="865"/><use href="#m" x="818" y="858"/><use href="#m" x="819" y="862"/><use href="#m" x="819" y="861"/><use href="#m" x="820" y="865"/><use href="#m" x="821" y="861"/><use href="#m" x="821" y="862"/><use href="#m" x="822" y="857"/><use href="#m" x="822" y="860"/><use href="#m" x="823" y="865"/><use href="#m" x="823" y="863"/><use href="#m" x="823" y="864"/><use href="#m" x="824" y="865"/><use href="#m" x="824" y="864"/><use href="#m" x="825" y="865"/><use href="#m" x="825" y="863"/><use href="#m" x="826" y="859"/><use href="#m" x="826" y="864"/><use href="#m" x="827" y="863"/><use href="#m" x="827" y="862"/><use href="#m" x="828" y="861"/><use href="#m" x="829" y="865"/><use href="#m" x="830" y="865"/><use href="#m" x="830" y="858"/><use href="#m" x="831" y="865"/><use href="#m" x="831" y="860"/><use href="#m" x="831" y="853"/><use href="#m" x="832" y="865"/><use href="#m" x="832" y="864"/><use href="#m" x="833" y="865"/><use href="#m" x="834" y="858"/><use href="#m" x="834" y="863"/><use href="#m" x="835" y="864"/><use href="#m" x="835" y="865"/><use href="#m" x="836" y="863"/><use href="#m" x="836" y="865"/><use href="#m" x="837" y="864"/><use href="#m" x="837" y="863"/><use href="#m" x="837" y="860"/><use href="#m" x="838" y="865"/><use href="#m" x="838" y="861"/><use href="#m" x="838" y="863"/><use href="#m" x="839" y="863"/><use href="#m" x="839" y="864"/><use href="#m" x="840" y="865"/><use href="#m" x="840" y="862"/><use href="#m" x="840" y="864"/><use href="#m" x="841" y="863"/><use href="#m" x="841" y="862"/><use href="#m" x="842" y="865"/><use href="#m" x="842" y="860"/><use href="#m" x="842" y="862"/><use href="#m" x="843" y="865"/><use href="#m" x="843" y="863"/><use href="#m" x="844" y="865"/><use href="#m" x="845" y="856"/><use href="#m" x="845" y="860"/><use href="#m" x="846" y="859"/><use href="#m" x="846" y="858"/><use href="#m" x="846" y="863"/><use href="#m" x="847" y="853"/><use href="#m" x="847" y="865"/><use href="#m" x="848" y="861"/><use href="#m" x="848" y="865"/><use href="#m" x="848" y="862"/><use href="#m" x="849" y="864"/><use href="#m" x="849" y="858"/><use href="#m" x="849" y="860"/><use href="#m" x="850" y="861"/><use href="#m" x="851" y="865"/><use href="#m" x="851" y="864"/><use href="#m" x="852" y="860"/><use href="#m" x="853" y="863"/><use href="#m" x="853" y="862"/><use href="#m" x="853" y="857"/><use href="#m" x="854" y="865"/><use href="#m" x="854" y="863"/><use href="#m" x="855" y="861"/><use href="#m" x="855" y="860"/><use href="#m" x="856" y="861"/><use href="#m" x="856" y="865"/><use href="#m" x="856" y="862"/><use href="#m" x="857" y="860"/><use href="#m" x="857" y="865"/><use href="#m" x="857" y="856"/><use href="#m" x="858" y="864"/><use href="#m" x="858" y="856"/><use href="#m" x="859" y="863"/><use href="#m" x="859" y="861"/><use href="#m" x="859" y="856"/><use href="#m" x="860" y="863"/><use href="#m" x="860" y="864"/><use href="#m" x="861" y="859"/><use href="#m" x="861" y="865"/><use href="#m" x="862" y="863"/><use href="#m" x="862" y="865"/><use href="#m" x="863" y="853"/><use href="#m" x="864" y="865"/><use href="#m" x="864" y="864"/><use href="#m" x="865" y="865"/><use href="#m" x="865" y="864"/><use href="#m" x="866" y="863"/><use href="#m" x="867" y="863"/><use href="#m" x="867" y="865"/><use href="#m" x="868" y="862"/><use href="#m" x="868" y="865"/><use href="#m" x="868" y="863"/><use href="#m" x="869" y="864"/><use href="#m" x="870" y="863"/><use href="#m" x="870" y="862"/><use href="#m" x="870" y="865"/><use href="#m" x="871" y="861"/><use href="#m" x="871" y="856"/><use href="#m" x="872" y="863"/><use href="#m" x="873" y="861"/><use href="#m" x="873" y="856"/><use href="#m" x="873" y="859"/><use href="#m" x="874" y="860"/><use href="#m" x="874" y="862"/><use href="#m" x="874" y="858"/><use href="#m" x="875" y="852"/><use href="#m" x="875" y="865"/><use href="#m" x="876" y="865"/><use href="#m" x="876" y="861"/><use href="#m" x="877" y="865"/><use href="#m" x="877" y="855"/><use href="#m" x="878" y="865"/><use href="#m" x="878" y="858"/><use href="#m" x="878" y="864"/><use href="#m" x="879" y="865"/><use href="#m" x="879" y="861"/><use href="#m" x="879" y="859"/><use href="#m" x="880" y="863"/><use href="#m" x="880" y="860"/><use href="#m" x="881" y="864"/><use href="#m" x="881" y="865"/><use href="#m" x="881" y="860"/><use href="#m" x="882" y="864"/><use href="#m" x="882" y="862"/><use href="#m" x="882" y="861"/><use href="#m" x="883" y="865"/><use href="#m" x="884" y="857"/><use href="#m" x="884" y="863"/><use href="#m" x="884" y="865"/><use href="#m" x="885" y="863"/><use href="#m" x="885" y="865"/><use href="#m" x="886" y="862"/><use href="#m" x="886" y="865"/><use href="#m" x="887" y="863"/><use href="#m" x="887" y="865"/><use href="#m" x="887" y="862"/><use href="#m" x="888" y="864"/><use href="#m" x="888" y="858"/><use href="#m" x="889" y="860"/><use href="#m" x="889" y="859"/><use href="#m" x="889" y="865"/><use href="#m" x="890" y="865"/><use href="#m" x="890" y="864"/><use href="#m" x="891" y="863"/><use href="#m" x="891" y="859"/><use href="#m" x="892" y="865"/><use href="#m" x="892" y="861"/><use href="#m" x="894" y="865"/><use href="#m" x="894" y="862"/><use href="#m" x="895" y="864"/><use href="#m" x="895" y="858"/><use href="#m" x="896" y="865"/><use href="#m" x="896" y="863"/><use href="#m" x="897" y="863"/><use href="#m" x="898" y="862"/><use href="#m" x="898" y="864"/><use href="#m" x="899" y="860"/><use href="#m" x="899" y="864"/><use href="#m" x="900" y="865"/><use href="#m" x="900" y="863"/><use href="#m" x="901" y="865"/><use href="#m" x="901" y="858"/><use href="#m" x="902" y="865"/><use href="#m" x="902" y="864"/><use href="#m" x="903" y="859"/><use href="#m" x="903" y="865"/><use href="#m" x="903" y="863"/><use href="#m" x="904" y="865"/><use href="#m" x="904" y="861"/><use href="#m" x="905" y="864"/><use href="#m" x="906" y="856"/><use href="#m" x="906" y="864"/><use href="#m" x="906" y="865"/><use href="#m" x="907" y="865"/><use href="#m" x="907" y="860"/><use href="#m" x="908" y="862"/><use href="#m" x="908" y="864"/><use href="#m" x="909" y="856"/><use href="#m" x="909" y="864"/><use href="#m" x="910" y="860"/><use href="#m" x="910" y="865"/><use href="#m" x="910" y="861"/><use href="#m" x="911" y="862"/><use href="#m" x="911" y="865"/><use href="#m" x="912" y="863"/><use href="#m" x="912" y="862"/><use href="#m" x="559" y="596"/><use href="#m" x="559" y="793"/><use href="#m" x="710" y="775"/><use href="#m" x="692" y="799"/><use href="#m" x="738" y="651"/><use href="#m" x="860" y="733"/><use href="#m" x="904" y="794"/><use href="#m" x="912" y="798"/><use href="#m" x="579" y="804"/><use href="#m" x="567" y="818"/><use href="#m" x="587" y="819"/><use href="#m" x="566" y="832"/><use href="#m" x="574" y="834"/><use href="#m" x="565" y="836"/><use href="#m" x="592" y="833"/><use href="#m" x="606" y="834"/><use href="#m" x="640" y="813"/><use href="#m" x="630" y="828"/><use href="#m" x="631" y="834"/><use href="#m" x="646" y="830"/><use href="#m" x="648" y="829"/><use href="#m" x="649" y="833"/><use href="#m" x="671" y="826"/><use href="#m" x="688" y="830"/><use href="#m" x="701" y="825"/><use href="#m" x="703" y="822"/><use href="#m" x="704" y="821"/><use href="#m" x="705" y="820"/><use href="#m" x="723" y="836"/><use href="#m" x="729" y="837"/><use href="#m" x="730" y="837"/><use href="#m" x="739" y="837"/><use href="#m" x="578" y="840"/><use href="#m" x="569" y="842"/><use href="#m" x="573" y="844"/><use href="#m" x="562" y="847"/><use href="#m" x="563" y="847"/><use href="#m" x="607" y="839"/><use href="#m" x="613" y="842"/><use href="#m" x="592" y="842"/><use href="#m" x="599" y="844"/><use href="#m" x="588" y="845"/><use href="#m" x="585" y="850"/><use href="#m" x="595" y="852"/><use href="#m" x="597" y="852"/><use href="#m" x="606" y="850"/><use href="#m" x="630" y="850"/><use href="#m" x="617" y="852"/><use href="#m" x="647" y="846"/><use href="#m" x="653" y="844"/><use href="#m" x="666" y="845"/><use href="#m" x="675" y="846"/><use href="#m" x="672" y="852"/><use href="#m" x="731" y="846"/><use href="#m" x="732" y="846"/><use href="#m" x="724" y="850"/><use href="#m" x="646" y="853"/><use href="#m" x="692" y="853"/><use href="#m" x="680" y="853"/><use href="#m" x="707" y="854"/><use href="#m" x="711" y="854"/><use href="#m" x="736" y="853"/><use href="#m" x="567" y="867"/><use href="#m" x="810" y="809"/><use href="#m" x="808" y="833"/><use href="#m" x="810" y="840"/><use href="#m" x="869" y="816"/><use href="#m" x="879" y="815"/><use href="#m" x="896" y="817"/><use href="#m" x="911" y="821"/><use href="#m" x="890" y="833"/><use href="#m" x="895" y="836"/><use href="#m" x="901" y="840"/><use href="#m" x="845" y="842"/><use href="#m" x="866" y="842"/><use href="#m" x="859" y="845"/><use href="#m" x="746" y="848"/><use href="#m" x="752" y="850"/><use href="#m" x="754" y="851"/><use href="#m" x="764" y="851"/><use href="#m" x="777" y="851"/><use href="#m" x="792" y="849"/><use href="#m" x="791" y="851"/><use href="#m" x="804" y="852"/><use href="#m" x="805" y="852"/><use href="#m" x="819" y="851"/><use href="#m" x="824" y="853"/><use href="#m" x="836" y="852"/><use href="#m" x="846" y="848"/><use href="#m" x="852" y="852"/><use href="#m" x="868" y="848"/><use href="#m" x="862" y="851"/><use href="#m" x="907" y="845"/><use href="#m" x="907" y="846"/><use href="#m" x="912" y="847"/><use href="#m" x="888" y="850"/><use href="#m" x="894" y="850"/><use href="#m" x="899" y="853"/><use href="#m" x="907" y="853"/><use href="#m" x="819" y="870"/><use href="#m" x="825" y="870"/><use href="#m" x="902" y="868"/>
</g>
<g stroke="#000" stroke-width="1" fill="none" shape-rendering="crispEdges">
<rect x="545.5" y="569.5" width="381" height="309"/>
<line x1="559.5" y1="878.5" x2="559.5" y2="887.0"/>
<line x1="634.5" y1="878.5" x2="634.5" y2="887.0"/>
<line x1="710.5" y1="878.5" x2="710.5" y2="887.0"/>
<line x1="786.5" y1="878.5" x2="786.5" y2="887.0"/>
<line x1="862.5" y1="878.5" x2="862.5" y2="887.0"/>
<line x1="537.0" y1="867.5" x2="545.5" y2="867.5"/>
<line x1="537.0" y1="788.5" x2="545.5" y2="788.5"/>
<line x1="537.0" y1="709.5" x2="545.5" y2="709.5"/>
<line x1="537.0" y1="630.5" x2="545.5" y2="630.5"/>
</g>
<line x1="545.5" y1="799.5" x2="927.0" y2="799.5" stroke="#f00" stroke-width="1" shape-rendering="crispEdges"/>
<g font-family='"Liberation Sans", sans-serif' font-size="14" fill="#000" text-anchor="middle">
<text transform="translate(558.30,908.00) scale(0.9,1)">0</text>
<text transform="translate(633.30,908.00) scale(0.9,1)">200</text>
<text transform="translate(709.30,908.00) scale(0.9,1)">400</text>
<text transform="translate(785.30,908.00) scale(0.9,1)">600</text>
<text transform="translate(861.30,908.00) scale(0.9,1)">800</text>
<text transform="translate(734.80,940.00) scale(0.9,1)">t</text>
<text transform="translate(526.80,867.50) rotate(-90) scale(0.9,1)">0.00</text>
<text transform="translate(526.80,788.50) rotate(-90) scale(0.9,1)">0.02</text>
<text transform="translate(526.80,709.50) rotate(-90) scale(0.9,1)">0.04</text>
<text transform="translate(526.80,630.50) rotate(-90) scale(0.9,1)">0.06</text>
<text transform="translate(494.80,724.00) rotate(-90) scale(0.9,1)">C_i_rhos</text>
<text transform="translate(559.00,589.00) scale(0.9,1)">1</text>
<text transform="translate(559.00,786.00) scale(0.9,1)">2</text>
<text transform="translate(710.00,768.00) scale(0.9,1)">399</text>
<text transform="translate(738.00,644.00) scale(0.9,1)">474</text>
<text transform="translate(860.00,726.00) scale(0.9,1)">794</text>
<text transform="translate(904.00,787.00) scale(0.9,1)">914</text>
<text transform="translate(912.00,791.00) scale(0.9,1)">932</text>
</g>
</g>
</svg>
</body></html>
